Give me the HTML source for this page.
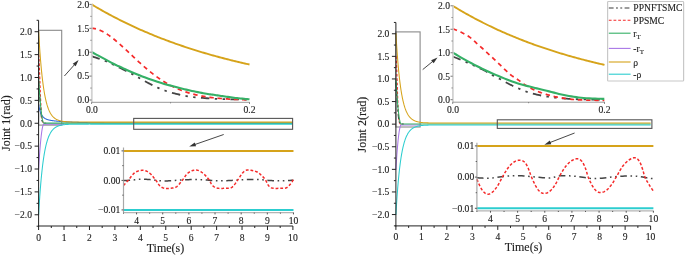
<!DOCTYPE html>
<html><head><meta charset="utf-8"><style>
html,body{margin:0;padding:0;background:#fff;width:685px;height:256px;overflow:hidden}
svg{display:block;will-change:transform}
text{font-family:"Liberation Serif",serif;stroke:#222;stroke-width:0.12px}
</style></head><body>
<svg width="685" height="256" viewBox="0 0 685 256" font-family='"Liberation Serif", serif' fill="#222">
<rect width="685" height="256" fill="#fff"/>
<rect x="38.6" y="30.3" width="23.1" height="94.8" fill="none" stroke="#8a8a8a" stroke-width="1.1"/>
<path d="M38.6,54.61 L38.7,54.94 L38.8,55.76 L38.91,56.97 L39.01,58.53 L39.11,60.39 L39.21,62.5 L39.31,64.82 L39.41,67.33 L39.52,69.97 L39.62,72.71 L39.72,75.53 L39.82,78.38 L39.92,81.24 L40.02,84.08 L40.13,86.89 L40.23,89.62 L40.33,92.28 L40.43,94.84 L40.53,97.29 L40.63,99.62 L40.74,101.82 L40.84,103.89 L40.94,105.83 L41.04,107.63 L41.14,109.3 L41.24,110.83 L41.35,112.24 L41.45,113.52 L41.55,114.69 L41.65,115.74 L41.75,116.68 L41.86,117.53 L41.96,118.28 L42.06,118.95 L42.16,119.55 L42.26,120.07 L42.36,120.53 L42.47,120.93 L42.57,121.27 L42.67,121.57 L42.77,121.83 L42.87,122.06 L42.97,122.25 L43.08,122.41 L43.18,122.55 L43.28,122.67 L43.38,122.77 L43.48,122.85 L43.58,122.92 L43.69,122.98 L43.79,123.03 L43.89,123.07 L43.99,123.11 L44.09,123.13 L44.19,123.16 L44.3,123.17 L44.4,123.19 L44.5,123.2 L44.6,123.21 L44.7,123.22 L44.8,123.23 L44.91,123.23 L45.01,123.23 L45.11,123.24 L45.21,123.24 L45.31,123.24 L45.42,123.24 L45.52,123.25 L45.62,123.25 L45.72,123.25 L45.82,123.25 L45.92,123.25 L46.03,123.25 L46.13,123.25 L46.23,123.25" fill="none" stroke="#f52a2a" stroke-width="1.1" stroke-linejoin="round" stroke-dasharray="2.6,1.8"/>
<path d="M38.6,81.15 L39.36,91.22 L40.13,102.66 L40.89,113.18 L41.65,119.59 L42.67,122.79 L43.69,123.25 L46.23,123.25" fill="none" stroke="#444" stroke-width="1.1" stroke-linejoin="round" stroke-dasharray="4.8,2.4,1.9,2.4,1.9,2.4"/>
<path d="M38.6,169.4 L38.73,167.27 L38.85,165.19 L38.98,163.16 L39.11,161.18 L39.24,159.26 L39.36,157.38 L39.49,155.56 L39.62,153.79 L39.74,152.07 L39.87,150.4 L40,148.78 L40.13,147.21 L40.25,145.7 L40.38,144.23 L40.51,142.82 L40.63,141.46 L40.76,140.15 L40.89,138.89 L41.02,137.69 L41.14,136.53 L41.27,135.43 L41.4,134.37 L41.52,133.37 L41.65,132.42 L41.78,131.52 L41.91,130.67 L42.03,129.88 L42.16,129.13 L42.29,128.44 L42.41,127.8 L42.54,127.21 L42.67,126.67 L42.8,126.18 L42.92,125.74 L43.05,125.36 L43.18,125.02 L43.3,124.74 L43.43,124.51 L43.56,124.33 L43.69,124.2 L43.81,124.13 L43.94,124.1 L44.07,124.1 L44.19,124.1 L44.32,124.1 L44.45,124.1 L44.58,124.1 L44.7,124.1 L44.83,124.1 L44.96,124.1 L45.08,124.1 L45.21,124.1 L45.34,124.1 L45.47,124.1 L45.59,124.1 L45.72,124.1 L45.85,124.1 L45.97,124.1 L46.1,124.1 L46.23,124.1 L46.36,124.1 L46.48,124.1 L46.61,124.1 L46.74,124.1 L46.86,124.1 L46.99,124.1 L47.12,124.1 L47.25,124.1 L47.37,124.1 L47.5,124.1 L47.63,124.1 L47.75,124.1 L47.88,124.1 L48.01,124.1 L48.14,124.1 L48.26,124.1 L48.39,124.1 L48.52,124.1 L48.64,124.1 L48.77,124.1 L48.9,124.1 L49.03,124.1 L49.15,124.1 L49.28,124.1 L49.41,124.1 L49.53,124.1 L49.66,124.1 L49.79,124.1 L49.92,124.1 L50.04,124.1 L50.17,124.1 L50.3,124.1 L50.42,124.1 L50.55,124.1 L50.68,124.1 L50.81,124.1 L50.93,124.1 L51.06,124.1 L51.19,124.1 L51.31,124.1 L51.44,124.1 L51.57,124.1 L51.7,124.1 L51.82,124.1 L51.95,124.1 L52.08,124.1 L52.21,124.1 L52.33,124.1 L52.46,124.1 L52.59,124.1 L52.71,124.1 L52.84,124.1 L52.97,124.1 L53.1,124.1 L53.22,124.1 L53.35,124.1 L53.48,124.1 L53.6,124.1 L53.73,124.1 L53.86,124.1 L53.99,124.1 L54.11,124.1 L54.24,124.1 L54.37,124.1 L54.49,124.1 L54.62,124.1 L54.75,124.1 L54.88,124.1 L55,124.1 L55.13,124.1 L55.26,124.1 L55.38,124.1 L55.51,124.1 L55.64,124.1 L55.77,124.1 L55.89,124.1 L56.02,124.1 L56.15,124.1 L56.27,124.1 L56.4,124.1 L56.53,124.1 L56.66,124.1 L56.78,124.1 L56.91,124.1 L57.04,124.1 L57.16,124.1 L57.29,124.1 L57.42,124.1 L57.55,124.1 L57.67,124.1 L57.8,124.1 L57.93,124.1 L58.05,124.1 L58.18,124.1 L58.31,124.1 L58.44,124.1 L58.56,124.1 L58.69,124.1 L58.82,124.1 L58.94,124.1 L59.07,124.1 L59.2,124.1 L59.33,124.1 L59.45,124.1 L59.58,124.1 L59.71,124.1 L59.83,124.1 L59.96,124.1 L60.09,124.1 L60.22,124.1 L60.34,124.1 L60.47,124.1 L60.6,124.1 L60.72,124.1 L60.85,124.1 L60.98,124.1 L61.11,124.1 L61.23,124.1 L61.36,124.1 L61.49,124.1 L61.61,124.1 L61.74,124.1 L61.87,124.1 L62,124.1 L62.12,124.1 L62.25,124.1 L62.38,124.1 L62.5,124.1 L62.63,124.1 L62.76,124.1 L62.89,124.1 L63.01,124.1 L63.14,124.1 L63.27,124.1 L63.39,124.1 L63.52,124.1 L63.65,124.1 L63.78,124.1 L63.9,124.1 L64.03,124.1" fill="none" stroke="#a877e6" stroke-width="1.05" stroke-linejoin="round" />
<path d="M38.6,104.8 L38.73,105.46 L38.85,106.09 L38.98,106.7 L39.11,107.28 L39.24,107.83 L39.36,108.36 L39.49,108.87 L39.62,109.35 L39.74,109.81 L39.87,110.25 L40,110.68 L40.13,111.08 L40.25,111.46 L40.38,111.83 L40.51,112.19 L40.63,112.52 L40.76,112.85 L40.89,113.15 L41.02,113.45 L41.14,113.73 L41.27,114 L41.4,114.26 L41.52,114.51 L41.65,114.75 L41.78,114.97 L41.91,115.19 L42.03,115.4 L42.16,115.6 L42.29,115.79 L42.41,115.98 L42.54,116.15 L42.67,116.32 L42.8,116.48 L42.92,116.64 L43.05,116.79 L43.18,116.93 L43.3,117.07 L43.43,117.2 L43.56,117.33 L43.69,117.45 L43.81,117.56 L43.94,117.68 L44.07,117.78 L44.19,117.89 L44.32,117.99 L44.45,118.08 L44.58,118.18 L44.7,118.26 L44.83,118.35 L44.96,118.43 L45.08,118.51 L45.21,118.59 L45.34,118.66 L45.47,118.73 L45.59,118.8 L45.72,118.87 L45.85,118.93 L45.97,119 L46.1,119.06 L46.23,119.11 L46.36,119.17 L46.48,119.22 L46.61,119.28 L46.74,119.33 L46.86,119.38 L46.99,119.42 L47.12,119.47 L47.25,119.51 L47.37,119.56 L47.5,119.6 L47.63,119.64 L47.75,119.68 L47.88,119.72 L48.01,119.76 L48.14,119.79 L48.26,119.83 L48.39,119.86 L48.52,119.9 L48.64,119.93 L48.77,119.96 L48.9,119.99 L49.03,120.02 L49.15,120.05 L49.28,120.08 L49.41,120.11 L49.53,120.14 L49.66,120.16 L49.79,120.19 L49.92,120.22 L50.04,120.24 L50.17,120.27 L50.3,120.29 L50.42,120.32 L50.55,120.34 L50.68,120.36 L50.81,120.38 L50.93,120.41 L51.06,120.43 L51.19,120.45 L51.31,120.47 L51.44,120.49 L51.57,120.51 L51.7,120.53 L51.82,120.55 L51.95,120.57 L52.08,120.59 L52.21,120.61 L52.33,120.63 L52.46,120.64 L52.59,120.66 L52.71,120.68 L52.84,120.7 L52.97,120.71 L53.1,120.73 L53.22,120.75 L53.35,120.76 L53.48,120.78 L53.6,120.8 L53.73,120.81 L53.86,120.83 L53.99,120.84 L54.11,120.86 L54.24,120.87 L54.37,120.89 L54.49,120.9 L54.62,120.92 L54.75,120.93 L54.88,120.95 L55,120.96 L55.13,120.97 L55.26,120.99 L55.38,121 L55.51,121.01 L55.64,121.03 L55.77,121.04 L55.89,121.06 L56.02,121.07 L56.15,121.08 L56.27,121.09 L56.4,121.11 L56.53,121.12 L56.66,121.13 L56.78,121.14 L56.91,121.16 L57.04,121.17 L57.16,121.18 L57.29,121.19 L57.42,121.2 L57.55,121.22 L57.67,121.23 L57.8,121.24 L57.93,121.25 L58.05,121.26 L58.18,121.27 L58.31,121.29 L58.44,121.3 L58.56,121.31 L58.69,121.32 L58.82,121.33 L58.94,121.34 L59.07,121.35 L59.2,121.36 L59.33,121.37 L59.45,121.38 L59.58,121.39 L59.71,121.4 L59.83,121.42 L59.96,121.43 L60.09,121.44 L60.22,121.45 L60.34,121.46 L60.47,121.47 L60.6,121.48 L60.72,121.49 L60.85,121.5 L60.98,121.51 L61.11,121.51 L61.23,121.52 L61.36,121.53 L61.49,121.54 L61.61,121.55 L61.74,121.56 L61.87,121.57 L62,121.58 L62.12,121.59 L62.25,121.6 L62.38,121.61 L62.5,121.62 L62.63,121.63 L62.76,121.63 L62.89,121.64 L63.01,121.65 L63.14,121.66 L63.27,121.67 L63.39,121.68 L63.52,121.69 L63.65,121.7 L63.78,121.7 L63.9,121.71 L64.03,121.72 L65.3,121.8 L66.57,121.88 L67.84,121.95 L69.12,122.02 L70.39,122.08 L71.66,122.14 L72.93,122.19 L74.2,122.25 L75.47,122.3 L76.75,122.34 L78.02,122.39 L79.29,122.43 L80.56,122.47 L81.83,122.5 L83.1,122.54 L84.37,122.57 L85.65,122.6 L86.92,122.63 L88.19,122.66 L89.46,122.68 L90.73,122.71 L92,122.73 L93.27,122.75 L94.55,122.77 L95.82,122.79 L97.09,122.81 L98.36,122.83 L99.63,122.84 L100.9,122.86 L102.18,122.87 L103.45,122.89 L104.72,122.9 L105.99,122.91 L107.26,122.92 L108.53,122.93 L109.8,122.94 L111.08,122.95 L112.35,122.96 L113.62,122.97 L114.89,122.97 L127.6,123.03 L140.32,123.06 L153.03,123.08 L165.75,123.09 L178.47,123.09 L191.18,123.1 L203.89,123.1 L216.61,123.1 L229.32,123.1 L242.04,123.1 L254.75,123.1 L267.47,123.1 L280.19,123.1 L292.9,123.1" fill="none" stroke="#2a66d6" stroke-width="1.05" stroke-linejoin="round" />
<path d="M38.6,77.8 L38.73,79.93 L38.85,82.01 L38.98,84.04 L39.11,86.02 L39.24,87.94 L39.36,89.82 L39.49,91.64 L39.62,93.41 L39.74,95.13 L39.87,96.8 L40,98.42 L40.13,99.99 L40.25,101.5 L40.38,102.97 L40.51,104.38 L40.63,105.74 L40.76,107.05 L40.89,108.31 L41.02,109.51 L41.14,110.67 L41.27,111.77 L41.4,112.83 L41.52,113.83 L41.65,114.78 L41.78,115.68 L41.91,116.53 L42.03,117.32 L42.16,118.07 L42.29,118.76 L42.41,119.4 L42.54,119.99 L42.67,120.53 L42.8,121.02 L42.92,121.46 L43.05,121.84 L43.18,122.18 L43.3,122.46 L43.43,122.69 L43.56,122.87 L43.69,123 L43.81,123.07 L43.94,123.1 L44.07,123.1 L44.19,123.1 L44.32,123.1 L44.45,123.1 L44.58,123.1 L44.7,123.1 L44.83,123.1 L44.96,123.1 L45.08,123.1 L45.21,123.1 L45.34,123.1 L45.47,123.1 L45.59,123.1 L45.72,123.1 L45.85,123.1 L45.97,123.1 L46.1,123.1 L46.23,123.1 L46.36,123.1 L46.48,123.1 L46.61,123.1 L46.74,123.1 L46.86,123.1 L46.99,123.1 L47.12,123.1 L47.25,123.1 L47.37,123.1 L47.5,123.1 L47.63,123.1 L47.75,123.1 L47.88,123.1 L48.01,123.1 L48.14,123.1 L48.26,123.1 L48.39,123.1 L48.52,123.1 L48.64,123.1 L48.77,123.1 L48.9,123.1 L49.03,123.1 L49.15,123.1 L49.28,123.1 L49.41,123.1 L49.53,123.1 L49.66,123.1 L49.79,123.1 L49.92,123.1 L50.04,123.1 L50.17,123.1 L50.3,123.1 L50.42,123.1 L50.55,123.1 L50.68,123.1 L50.81,123.1 L50.93,123.1 L51.06,123.1 L51.19,123.1 L51.31,123.1 L51.44,123.1 L51.57,123.1 L51.7,123.1 L51.82,123.1 L51.95,123.1 L52.08,123.1 L52.21,123.1 L52.33,123.1 L52.46,123.1 L52.59,123.1 L52.71,123.1 L52.84,123.1 L52.97,123.1 L53.1,123.1 L53.22,123.1 L53.35,123.1 L53.48,123.1 L53.6,123.1 L53.73,123.1 L53.86,123.1 L53.99,123.1 L54.11,123.1 L54.24,123.1 L54.37,123.1 L54.49,123.1 L54.62,123.1 L54.75,123.1 L54.88,123.1 L55,123.1 L55.13,123.1 L55.26,123.1 L55.38,123.1 L55.51,123.1 L55.64,123.1 L55.77,123.1 L55.89,123.1 L56.02,123.1 L56.15,123.1 L56.27,123.1 L56.4,123.1 L56.53,123.1 L56.66,123.1 L56.78,123.1 L56.91,123.1 L57.04,123.1 L57.16,123.1 L57.29,123.1 L57.42,123.1 L57.55,123.1 L57.67,123.1 L57.8,123.1 L57.93,123.1 L58.05,123.1 L58.18,123.1 L58.31,123.1 L58.44,123.1 L58.56,123.1 L58.69,123.1 L58.82,123.1 L58.94,123.1 L59.07,123.1 L59.2,123.1 L59.33,123.1 L59.45,123.1 L59.58,123.1 L59.71,123.1 L59.83,123.1 L59.96,123.1 L60.09,123.1 L60.22,123.1 L60.34,123.1 L60.47,123.1 L60.6,123.1 L60.72,123.1 L60.85,123.1 L60.98,123.1 L61.11,123.1 L61.23,123.1 L61.36,123.1 L61.49,123.1 L61.61,123.1 L61.74,123.1 L61.87,123.1 L62,123.1 L62.12,123.1 L62.25,123.1 L62.38,123.1 L62.5,123.1 L62.63,123.1 L62.76,123.1 L62.89,123.1 L63.01,123.1 L63.14,123.1 L63.27,123.1 L63.39,123.1 L63.52,123.1 L63.65,123.1 L63.78,123.1 L63.9,123.1 L64.03,123.1 L65.3,123.1 L66.57,123.1 L67.84,123.1 L69.12,123.1 L70.39,123.1 L71.66,123.1 L72.93,123.1 L74.2,123.1 L75.47,123.1 L76.75,123.1 L78.02,123.1 L79.29,123.1 L80.56,123.1 L81.83,123.1 L83.1,123.1 L84.37,123.1 L85.65,123.1 L86.92,123.1 L88.19,123.1 L89.46,123.1 L90.73,123.1 L92,123.1 L93.27,123.1 L94.55,123.1 L95.82,123.1 L97.09,123.1 L98.36,123.1 L99.63,123.1 L100.9,123.1 L102.18,123.1 L103.45,123.1 L104.72,123.1 L105.99,123.1 L107.26,123.1 L108.53,123.1 L109.8,123.1 L111.08,123.1 L112.35,123.1 L113.62,123.1 L114.89,123.1 L127.6,123.1 L140.32,123.1 L153.03,123.1 L165.75,123.1 L178.47,123.1 L191.18,123.1 L203.89,123.1 L216.61,123.1 L229.32,123.1 L242.04,123.1 L254.75,123.1 L267.47,123.1 L280.19,123.1 L292.9,123.1" fill="none" stroke="#34b066" stroke-width="1.05" stroke-linejoin="round" />
<path d="M38.6,215.16 L38.73,212.91 L38.85,210.72 L38.98,208.58 L39.11,206.5 L39.24,204.46 L39.36,202.48 L39.49,200.54 L39.62,198.66 L39.74,196.81 L39.87,195.02 L40,193.27 L40.13,191.56 L40.25,189.9 L40.38,188.27 L40.51,186.69 L40.63,185.14 L40.76,183.63 L40.89,182.16 L41.02,180.73 L41.14,179.33 L41.27,177.97 L41.4,176.64 L41.52,175.34 L41.65,174.08 L41.78,172.84 L41.91,171.64 L42.03,170.47 L42.16,169.32 L42.29,168.2 L42.41,167.11 L42.54,166.05 L42.67,165.02 L42.8,164.01 L42.92,163.02 L43.05,162.06 L43.18,161.12 L43.3,160.21 L43.43,159.32 L43.56,158.45 L43.69,157.6 L43.81,156.77 L43.94,155.97 L44.07,155.18 L44.19,154.41 L44.32,153.66 L44.45,152.93 L44.58,152.22 L44.7,151.53 L44.83,150.85 L44.96,150.19 L45.08,149.55 L45.21,148.92 L45.34,148.3 L45.47,147.71 L45.59,147.12 L45.72,146.56 L45.85,146 L45.97,145.46 L46.1,144.93 L46.23,144.42 L46.36,143.92 L46.48,143.43 L46.61,142.95 L46.74,142.49 L46.86,142.03 L46.99,141.59 L47.12,141.16 L47.25,140.74 L47.37,140.32 L47.5,139.92 L47.63,139.53 L47.75,139.15 L47.88,138.78 L48.01,138.42 L48.14,138.06 L48.26,137.72 L48.39,137.38 L48.52,137.06 L48.64,136.74 L48.77,136.42 L48.9,136.12 L49.03,135.82 L49.15,135.53 L49.28,135.25 L49.41,134.98 L49.53,134.71 L49.66,134.45 L49.79,134.19 L49.92,133.94 L50.04,133.7 L50.17,133.46 L50.3,133.23 L50.42,133 L50.55,132.78 L50.68,132.57 L50.81,132.36 L50.93,132.16 L51.06,131.96 L51.19,131.76 L51.31,131.57 L51.44,131.39 L51.57,131.21 L51.7,131.03 L51.82,130.86 L51.95,130.7 L52.08,130.53 L52.21,130.37 L52.33,130.22 L52.46,130.07 L52.59,129.92 L52.71,129.78 L52.84,129.64 L52.97,129.5 L53.1,129.37 L53.22,129.24 L53.35,129.11 L53.48,128.99 L53.6,128.87 L53.73,128.75 L53.86,128.63 L53.99,128.52 L54.11,128.41 L54.24,128.31 L54.37,128.2 L54.49,128.1 L54.62,128 L54.75,127.91 L54.88,127.81 L55,127.72 L55.13,127.63 L55.26,127.54 L55.38,127.46 L55.51,127.38 L55.64,127.29 L55.77,127.22 L55.89,127.14 L56.02,127.06 L56.15,126.99 L56.27,126.92 L56.4,126.85 L56.53,126.78 L56.66,126.72 L56.78,126.65 L56.91,126.59 L57.04,126.53 L57.16,126.47 L57.29,126.41 L57.42,126.35 L57.55,126.3 L57.67,126.24 L57.8,126.19 L57.93,126.14 L58.05,126.09 L58.18,126.04 L58.31,125.99 L58.44,125.94 L58.56,125.9 L58.69,125.85 L58.82,125.81 L58.94,125.77 L59.07,125.73 L59.2,125.69 L59.33,125.65 L59.45,125.61 L59.58,125.57 L59.71,125.54 L59.83,125.5 L59.96,125.47 L60.09,125.43 L60.22,125.4 L60.34,125.37 L60.47,125.34 L60.6,125.31 L60.72,125.28 L60.85,125.25 L60.98,125.22 L61.11,125.19 L61.23,125.16 L61.36,125.14 L61.49,125.11 L61.61,125.09 L61.74,125.06 L61.87,125.04 L62,125.02 L62.12,124.99 L62.25,124.97 L62.38,124.95 L62.5,124.93 L62.63,124.91 L62.76,124.89 L62.89,124.87 L63.01,124.85 L63.14,124.83 L63.27,124.81 L63.39,124.8 L63.52,124.78 L63.65,124.76 L63.78,124.75 L63.9,124.73 L64.03,124.71 L65.3,124.58 L66.57,124.47 L67.84,124.39 L69.12,124.33 L70.39,124.28 L71.66,124.24 L72.93,124.21 L74.2,124.18 L75.47,124.16 L76.75,124.15 L78.02,124.14 L79.29,124.13 L80.56,124.12 L81.83,124.12 L83.1,124.11 L84.37,124.11 L85.65,124.11 L86.92,124.11 L88.19,124.11 L89.46,124.1 L90.73,124.1 L92,124.1 L93.27,124.1 L94.55,124.1 L95.82,124.1 L97.09,124.1 L98.36,124.1 L99.63,124.1 L100.9,124.1 L102.18,124.1 L103.45,124.1 L104.72,124.1 L105.99,124.1 L107.26,124.1 L108.53,124.1 L109.8,124.1 L111.08,124.1 L112.35,124.1 L113.62,124.1 L114.89,124.1 L127.6,124.1 L140.32,124.1 L153.03,124.1 L165.75,124.1 L178.47,124.1 L191.18,124.1 L203.89,124.1 L216.61,124.1 L229.32,124.1 L242.04,124.1 L254.75,124.1 L267.47,124.1 L280.19,124.1 L292.9,124.1" fill="none" stroke="#2ccdcf" stroke-width="1.05" stroke-linejoin="round" />
<path d="M38.6,31.04 L38.73,33.29 L38.85,35.48 L38.98,37.62 L39.11,39.7 L39.24,41.74 L39.36,43.72 L39.49,45.66 L39.62,47.54 L39.74,49.39 L39.87,51.18 L40,52.93 L40.13,54.64 L40.25,56.3 L40.38,57.93 L40.51,59.51 L40.63,61.06 L40.76,62.57 L40.89,64.04 L41.02,65.47 L41.14,66.87 L41.27,68.23 L41.4,69.56 L41.52,70.86 L41.65,72.12 L41.78,73.36 L41.91,74.56 L42.03,75.73 L42.16,76.88 L42.29,78 L42.41,79.09 L42.54,80.15 L42.67,81.18 L42.8,82.19 L42.92,83.18 L43.05,84.14 L43.18,85.08 L43.3,85.99 L43.43,86.88 L43.56,87.75 L43.69,88.6 L43.81,89.43 L43.94,90.23 L44.07,91.02 L44.19,91.79 L44.32,92.54 L44.45,93.27 L44.58,93.98 L44.7,94.67 L44.83,95.35 L44.96,96.01 L45.08,96.65 L45.21,97.28 L45.34,97.9 L45.47,98.49 L45.59,99.08 L45.72,99.64 L45.85,100.2 L45.97,100.74 L46.1,101.27 L46.23,101.78 L46.36,102.28 L46.48,102.77 L46.61,103.25 L46.74,103.71 L46.86,104.17 L46.99,104.61 L47.12,105.04 L47.25,105.46 L47.37,105.88 L47.5,106.28 L47.63,106.67 L47.75,107.05 L47.88,107.42 L48.01,107.78 L48.14,108.14 L48.26,108.48 L48.39,108.82 L48.52,109.14 L48.64,109.46 L48.77,109.78 L48.9,110.08 L49.03,110.38 L49.15,110.67 L49.28,110.95 L49.41,111.22 L49.53,111.49 L49.66,111.75 L49.79,112.01 L49.92,112.26 L50.04,112.5 L50.17,112.74 L50.3,112.97 L50.42,113.2 L50.55,113.42 L50.68,113.63 L50.81,113.84 L50.93,114.04 L51.06,114.24 L51.19,114.44 L51.31,114.63 L51.44,114.81 L51.57,114.99 L51.7,115.17 L51.82,115.34 L51.95,115.5 L52.08,115.67 L52.21,115.83 L52.33,115.98 L52.46,116.13 L52.59,116.28 L52.71,116.42 L52.84,116.56 L52.97,116.7 L53.1,116.83 L53.22,116.96 L53.35,117.09 L53.48,117.21 L53.6,117.33 L53.73,117.45 L53.86,117.57 L53.99,117.68 L54.11,117.79 L54.24,117.89 L54.37,118 L54.49,118.1 L54.62,118.2 L54.75,118.29 L54.88,118.39 L55,118.48 L55.13,118.57 L55.26,118.66 L55.38,118.74 L55.51,118.82 L55.64,118.91 L55.77,118.98 L55.89,119.06 L56.02,119.14 L56.15,119.21 L56.27,119.28 L56.4,119.35 L56.53,119.42 L56.66,119.48 L56.78,119.55 L56.91,119.61 L57.04,119.67 L57.16,119.73 L57.29,119.79 L57.42,119.85 L57.55,119.9 L57.67,119.96 L57.8,120.01 L57.93,120.06 L58.05,120.11 L58.18,120.16 L58.31,120.21 L58.44,120.26 L58.56,120.3 L58.69,120.35 L58.82,120.39 L58.94,120.43 L59.07,120.47 L59.2,120.51 L59.33,120.55 L59.45,120.59 L59.58,120.63 L59.71,120.66 L59.83,120.7 L59.96,120.73 L60.09,120.77 L60.22,120.8 L60.34,120.83 L60.47,120.86 L60.6,120.89 L60.72,120.92 L60.85,120.95 L60.98,120.98 L61.11,121.01 L61.23,121.04 L61.36,121.06 L61.49,121.09 L61.61,121.11 L61.74,121.14 L61.87,121.16 L62,121.18 L62.12,121.21 L62.25,121.23 L62.38,121.25 L62.5,121.27 L62.63,121.29 L62.76,121.31 L62.89,121.33 L63.01,121.35 L63.14,121.37 L63.27,121.39 L63.39,121.4 L63.52,121.42 L63.65,121.44 L63.78,121.45 L63.9,121.47 L64.03,121.49 L65.3,121.62 L66.57,121.73 L67.84,121.81 L69.12,121.87 L70.39,121.92 L71.66,121.96 L72.93,121.99 L74.2,122.02 L75.47,122.04 L76.75,122.05 L78.02,122.06 L79.29,122.07 L80.56,122.08 L81.83,122.08 L83.1,122.09 L84.37,122.09 L85.65,122.09 L86.92,122.09 L88.19,122.09 L89.46,122.1 L90.73,122.1 L92,122.1 L93.27,122.1 L94.55,122.1 L95.82,122.1 L97.09,122.1 L98.36,122.1 L99.63,122.1 L100.9,122.1 L102.18,122.1 L103.45,122.1 L104.72,122.1 L105.99,122.1 L107.26,122.1 L108.53,122.1 L109.8,122.1 L111.08,122.1 L112.35,122.1 L113.62,122.1 L114.89,122.1 L127.6,122.1 L140.32,122.1 L153.03,122.1 L165.75,122.1 L178.47,122.1 L191.18,122.1 L203.89,122.1 L216.61,122.1 L229.32,122.1 L242.04,122.1 L254.75,122.1 L267.47,122.1 L280.19,122.1 L292.9,122.1" fill="none" stroke="#d6a31a" stroke-width="1.05" stroke-linejoin="round" />
<rect x="133.7" y="118.4" width="158.9" height="10.9" fill="none" stroke="#555" stroke-width="1.1"/>
<line x1="38.6" y1="20.3" x2="38.6" y2="226.5" stroke="#222" stroke-width="1" />
<line x1="38.1" y1="226" x2="292.9" y2="226" stroke="#222" stroke-width="1" />
<line x1="36.6" y1="226.21" x2="38.6" y2="226.21" stroke="#222" stroke-width="1" />
<line x1="34.6" y1="214.77" x2="38.6" y2="214.77" stroke="#222" stroke-width="1" />
<text x="32" y="218.07" font-size="9.6" text-anchor="end" >−2.0</text>
<line x1="36.6" y1="203.33" x2="38.6" y2="203.33" stroke="#222" stroke-width="1" />
<line x1="34.6" y1="191.89" x2="38.6" y2="191.89" stroke="#222" stroke-width="1" />
<text x="32" y="195.19" font-size="9.6" text-anchor="end" >−1.5</text>
<line x1="36.6" y1="180.45" x2="38.6" y2="180.45" stroke="#222" stroke-width="1" />
<line x1="34.6" y1="169.01" x2="38.6" y2="169.01" stroke="#222" stroke-width="1" />
<text x="32" y="172.31" font-size="9.6" text-anchor="end" >−1.0</text>
<line x1="36.6" y1="157.57" x2="38.6" y2="157.57" stroke="#222" stroke-width="1" />
<line x1="34.6" y1="146.13" x2="38.6" y2="146.13" stroke="#222" stroke-width="1" />
<text x="32" y="149.43" font-size="9.6" text-anchor="end" >−0.5</text>
<line x1="36.6" y1="134.69" x2="38.6" y2="134.69" stroke="#222" stroke-width="1" />
<line x1="34.6" y1="123.25" x2="38.6" y2="123.25" stroke="#222" stroke-width="1" />
<text x="32" y="126.55" font-size="9.6" text-anchor="end" >0.0</text>
<line x1="36.6" y1="111.81" x2="38.6" y2="111.81" stroke="#222" stroke-width="1" />
<line x1="34.6" y1="100.37" x2="38.6" y2="100.37" stroke="#222" stroke-width="1" />
<text x="32" y="103.67" font-size="9.6" text-anchor="end" >0.5</text>
<line x1="36.6" y1="88.93" x2="38.6" y2="88.93" stroke="#222" stroke-width="1" />
<line x1="34.6" y1="77.49" x2="38.6" y2="77.49" stroke="#222" stroke-width="1" />
<text x="32" y="80.79" font-size="9.6" text-anchor="end" >1.0</text>
<line x1="36.6" y1="66.05" x2="38.6" y2="66.05" stroke="#222" stroke-width="1" />
<line x1="34.6" y1="54.61" x2="38.6" y2="54.61" stroke="#222" stroke-width="1" />
<text x="32" y="57.91" font-size="9.6" text-anchor="end" >1.5</text>
<line x1="36.6" y1="43.17" x2="38.6" y2="43.17" stroke="#222" stroke-width="1" />
<line x1="34.6" y1="31.73" x2="38.6" y2="31.73" stroke="#222" stroke-width="1" />
<text x="32" y="35.03" font-size="9.6" text-anchor="end" >2.0</text>
<line x1="36.6" y1="20.29" x2="38.6" y2="20.29" stroke="#222" stroke-width="1" />
<line x1="38.6" y1="226" x2="38.6" y2="230" stroke="#222" stroke-width="1" />
<text x="38.6" y="240.7" font-size="9.6" text-anchor="middle" >0</text>
<line x1="51.31" y1="226" x2="51.31" y2="228" stroke="#222" stroke-width="1" />
<line x1="64.03" y1="226" x2="64.03" y2="230" stroke="#222" stroke-width="1" />
<text x="64.03" y="240.7" font-size="9.6" text-anchor="middle" >1</text>
<line x1="76.75" y1="226" x2="76.75" y2="228" stroke="#222" stroke-width="1" />
<line x1="89.46" y1="226" x2="89.46" y2="230" stroke="#222" stroke-width="1" />
<text x="89.46" y="240.7" font-size="9.6" text-anchor="middle" >2</text>
<line x1="102.18" y1="226" x2="102.18" y2="228" stroke="#222" stroke-width="1" />
<line x1="114.89" y1="226" x2="114.89" y2="230" stroke="#222" stroke-width="1" />
<text x="114.89" y="240.7" font-size="9.6" text-anchor="middle" >3</text>
<line x1="127.6" y1="226" x2="127.6" y2="228" stroke="#222" stroke-width="1" />
<line x1="140.32" y1="226" x2="140.32" y2="230" stroke="#222" stroke-width="1" />
<text x="140.32" y="240.7" font-size="9.6" text-anchor="middle" >4</text>
<line x1="153.03" y1="226" x2="153.03" y2="228" stroke="#222" stroke-width="1" />
<line x1="165.75" y1="226" x2="165.75" y2="230" stroke="#222" stroke-width="1" />
<text x="165.75" y="240.7" font-size="9.6" text-anchor="middle" >5</text>
<line x1="178.47" y1="226" x2="178.47" y2="228" stroke="#222" stroke-width="1" />
<line x1="191.18" y1="226" x2="191.18" y2="230" stroke="#222" stroke-width="1" />
<text x="191.18" y="240.7" font-size="9.6" text-anchor="middle" >6</text>
<line x1="203.89" y1="226" x2="203.89" y2="228" stroke="#222" stroke-width="1" />
<line x1="216.61" y1="226" x2="216.61" y2="230" stroke="#222" stroke-width="1" />
<text x="216.61" y="240.7" font-size="9.6" text-anchor="middle" >7</text>
<line x1="229.32" y1="226" x2="229.32" y2="228" stroke="#222" stroke-width="1" />
<line x1="242.04" y1="226" x2="242.04" y2="230" stroke="#222" stroke-width="1" />
<text x="242.04" y="240.7" font-size="9.6" text-anchor="middle" >8</text>
<line x1="254.75" y1="226" x2="254.75" y2="228" stroke="#222" stroke-width="1" />
<line x1="267.47" y1="226" x2="267.47" y2="230" stroke="#222" stroke-width="1" />
<text x="267.47" y="240.7" font-size="9.6" text-anchor="middle" >9</text>
<line x1="280.19" y1="226" x2="280.19" y2="228" stroke="#222" stroke-width="1" />
<line x1="292.9" y1="226" x2="292.9" y2="230" stroke="#222" stroke-width="1" />
<text x="292.9" y="240.7" font-size="9.6" text-anchor="middle" >10</text>
<text x="165.5" y="251.9" font-size="12.0" text-anchor="middle" >Time(s)</text>
<text x="0" y="0" font-size="12.0" text-anchor="middle" transform="translate(9.6,123.2) rotate(-90)">Joint 1(rad)</text>
<path d="M91.6,56.2 L92.73,56.58 L94.21,57.06 L95.96,57.63 L97.93,58.28 L100.03,58.99 L102.19,59.76 L104.34,60.57 L106.4,61.4 L108.48,62.31 L110.68,63.33 L112.96,64.43 L115.25,65.56 L117.51,66.69 L119.67,67.78 L121.69,68.8 L123.5,69.7 L125.11,70.49 L126.58,71.21 L127.92,71.87 L129.15,72.48 L130.3,73.05 L131.4,73.6 L132.46,74.15 L133.5,74.7 L134.47,75.23 L135.33,75.72 L136.11,76.18 L136.85,76.62 L137.59,77.08 L138.37,77.55 L139.23,78.05 L140.2,78.6 L141.3,79.21 L142.49,79.87 L143.75,80.56 L145.05,81.27 L146.37,81.98 L147.69,82.69 L148.97,83.36 L150.2,84 L151.39,84.61 L152.56,85.2 L153.71,85.78 L154.86,86.34 L155.99,86.89 L157.1,87.41 L158.21,87.92 L159.3,88.4 L160.35,88.85 L161.36,89.27 L162.33,89.66 L163.31,90.04 L164.3,90.4 L165.33,90.76 L166.42,91.13 L167.6,91.5 L168.87,91.88 L170.21,92.27 L171.6,92.66 L173.04,93.04 L174.52,93.42 L176.01,93.79 L177.51,94.15 L179,94.5 L180.47,94.83 L181.91,95.16 L183.35,95.48 L184.82,95.79 L186.33,96.09 L187.92,96.38 L189.6,96.65 L191.4,96.9 L193.38,97.14 L195.54,97.36 L197.82,97.56 L200.16,97.76 L202.49,97.94 L204.77,98.1 L206.93,98.26 L208.9,98.4 L210.58,98.53 L211.97,98.64 L213.19,98.73 L214.38,98.81 L215.64,98.89 L217.12,98.96 L218.93,99.03 L221.2,99.1 L224.17,99.18 L227.81,99.25 L231.88,99.32 L236.12,99.39 L240.26,99.46 L244.04,99.51 L247.21,99.56 L249.5,99.6" fill="none" stroke="#444" stroke-width="1.8" stroke-linejoin="round" stroke-dasharray="8.5,5.4,2.4,5.4,2.4,5.4"/>
<path d="M91.6,28.3 L93.18,28.4 L94.76,28.65 L96.34,29.02 L97.92,29.5 L99.49,30.09 L101.07,30.77 L102.65,31.54 L104.23,32.4 L105.81,33.33 L107.39,34.34 L108.97,35.41 L110.55,36.54 L112.13,37.73 L113.71,38.97 L115.28,40.26 L116.86,41.58 L118.44,42.95 L120.02,44.34 L121.6,45.77 L123.18,47.21 L124.76,48.67 L126.34,50.15 L127.92,51.64 L129.5,53.13 L131.07,54.63 L132.65,56.12 L134.23,57.61 L135.81,59.09 L137.39,60.56 L138.97,62.01 L140.55,63.45 L142.13,64.87 L143.71,66.27 L145.29,67.65 L146.87,69 L148.44,70.32 L150.02,71.61 L151.6,72.88 L153.18,74.11 L154.76,75.31 L156.34,76.48 L157.92,77.62 L159.5,78.71 L161.08,79.78 L162.65,80.81 L164.23,81.8 L165.81,82.76 L167.39,83.68 L168.97,84.57 L170.55,85.43 L172.13,86.24 L173.71,87.03 L175.29,87.78 L176.87,88.5 L178.44,89.18 L180.02,89.84 L181.6,90.46 L183.18,91.05 L184.76,91.62 L186.34,92.15 L187.92,92.66 L189.5,93.14 L191.08,93.59 L192.66,94.02 L194.24,94.43 L195.81,94.81 L197.39,95.17 L198.97,95.51 L200.55,95.83 L202.13,96.13 L203.71,96.41 L205.29,96.68 L206.87,96.92 L208.45,97.15 L210.02,97.37 L211.6,97.57 L213.18,97.76 L214.76,97.94 L216.34,98.1 L217.92,98.25 L219.5,98.39 L221.08,98.52 L222.66,98.64 L224.24,98.76 L225.81,98.86 L227.39,98.96 L228.97,99.04 L230.55,99.13 L232.13,99.2 L233.71,99.27 L235.29,99.34 L236.87,99.39 L238.45,99.45 L240.03,99.5 L241.6,99.54 L243.18,99.59 L244.76,99.62 L246.34,99.66 L247.92,99.69 L249.5,99.72" fill="none" stroke="#f52a2a" stroke-width="1.7" stroke-linejoin="round" stroke-dasharray="4.4,3.8"/>
<path d="M91.6,52 L93.39,52.96 L95.87,54.3 L98.85,55.91 L102.09,57.66 L105.38,59.43 L108.51,61.11 L111.25,62.57 L113.4,63.7 L114.88,64.47 L115.88,64.98 L116.54,65.3 L117.01,65.51 L117.45,65.69 L117.99,65.92 L118.79,66.26 L120,66.8 L121.57,67.52 L123.34,68.35 L125.28,69.26 L127.37,70.22 L129.59,71.24 L131.92,72.27 L134.33,73.29 L136.8,74.3 L139.44,75.33 L142.32,76.42 L145.35,77.54 L148.46,78.66 L151.55,79.76 L154.54,80.8 L157.35,81.76 L159.9,82.6 L162.17,83.32 L164.24,83.93 L166.15,84.46 L167.96,84.93 L169.7,85.37 L171.42,85.79 L173.17,86.23 L175,86.7 L176.88,87.19 L178.76,87.69 L180.63,88.18 L182.51,88.67 L184.38,89.15 L186.25,89.61 L188.13,90.07 L190,90.5 L191.91,90.92 L193.87,91.34 L195.84,91.75 L197.81,92.14 L199.74,92.52 L201.6,92.87 L203.36,93.2 L205,93.5 L206.49,93.76 L207.85,93.98 L209.12,94.17 L210.31,94.34 L211.47,94.5 L212.62,94.66 L213.78,94.82 L215,95 L216.24,95.19 L217.45,95.37 L218.66,95.56 L219.88,95.74 L221.1,95.93 L222.36,96.12 L223.65,96.31 L225,96.5 L226.4,96.7 L227.85,96.9 L229.33,97.11 L230.84,97.32 L232.38,97.52 L233.92,97.73 L235.46,97.92 L237,98.1 L238.62,98.28 L240.38,98.46 L242.2,98.63 L244,98.8 L245.71,98.96 L247.24,99.09 L248.53,99.21 L249.5,99.3" fill="none" stroke="#34b066" stroke-width="2.1" stroke-linejoin="round" />
<path d="M91.6,4.4 L93.18,5.35 L94.76,6.28 L96.34,7.21 L97.92,8.13 L99.49,9.04 L101.07,9.94 L102.65,10.83 L104.23,11.71 L105.81,12.59 L107.39,13.45 L108.97,14.31 L110.55,15.16 L112.13,16 L113.71,16.83 L115.28,17.65 L116.86,18.46 L118.44,19.27 L120.02,20.07 L121.6,20.86 L123.18,21.64 L124.76,22.42 L126.34,23.18 L127.92,23.94 L129.5,24.7 L131.07,25.44 L132.65,26.18 L134.23,26.91 L135.81,27.63 L137.39,28.35 L138.97,29.05 L140.55,29.76 L142.13,30.45 L143.71,31.14 L145.29,31.82 L146.87,32.49 L148.44,33.16 L150.02,33.82 L151.6,34.47 L153.18,35.12 L154.76,35.76 L156.34,36.39 L157.92,37.02 L159.5,37.64 L161.08,38.26 L162.65,38.87 L164.23,39.47 L165.81,40.07 L167.39,40.66 L168.97,41.25 L170.55,41.83 L172.13,42.4 L173.71,42.97 L175.29,43.53 L176.87,44.09 L178.44,44.64 L180.02,45.19 L181.6,45.73 L183.18,46.26 L184.76,46.79 L186.34,47.32 L187.92,47.84 L189.5,48.35 L191.08,48.86 L192.66,49.36 L194.24,49.86 L195.81,50.36 L197.39,50.85 L198.97,51.33 L200.55,51.81 L202.13,52.29 L203.71,52.76 L205.29,53.22 L206.87,53.68 L208.45,54.14 L210.02,54.59 L211.6,55.04 L213.18,55.48 L214.76,55.92 L216.34,56.35 L217.92,56.78 L219.5,57.21 L221.08,57.63 L222.66,58.04 L224.24,58.46 L225.81,58.87 L227.39,59.27 L228.97,59.67 L230.55,60.07 L232.13,60.46 L233.71,60.85 L235.29,61.23 L236.87,61.61 L238.45,61.99 L240.03,62.36 L241.6,62.73 L243.18,63.1 L244.76,63.46 L246.34,63.82 L247.92,64.18 L249.5,64.53" fill="none" stroke="#d6a31a" stroke-width="1.9" stroke-linejoin="round" />
<line x1="91.8" y1="3.9" x2="91.8" y2="102.3" stroke="#d2d2d2" stroke-width="1.8" />
<line x1="91.6" y1="102.3" x2="249.8" y2="102.3" stroke="#999" stroke-width="1.0" />
<line x1="89.4" y1="100" x2="91.6" y2="100" stroke="#777" stroke-width="1" />
<text x="89.3" y="103.3" font-size="9.6" text-anchor="end" >0.0</text>
<line x1="90.4" y1="88.05" x2="91.6" y2="88.05" stroke="#777" stroke-width="1" />
<line x1="89.4" y1="76.1" x2="91.6" y2="76.1" stroke="#777" stroke-width="1" />
<text x="89.3" y="79.4" font-size="9.6" text-anchor="end" >0.5</text>
<line x1="90.4" y1="64.15" x2="91.6" y2="64.15" stroke="#777" stroke-width="1" />
<line x1="89.4" y1="52.2" x2="91.6" y2="52.2" stroke="#777" stroke-width="1" />
<text x="89.3" y="55.5" font-size="9.6" text-anchor="end" >1.0</text>
<line x1="90.4" y1="40.25" x2="91.6" y2="40.25" stroke="#777" stroke-width="1" />
<line x1="89.4" y1="28.3" x2="91.6" y2="28.3" stroke="#777" stroke-width="1" />
<text x="89.3" y="31.6" font-size="9.6" text-anchor="end" >1.5</text>
<line x1="90.4" y1="16.35" x2="91.6" y2="16.35" stroke="#777" stroke-width="1" />
<line x1="89.4" y1="4.4" x2="91.6" y2="4.4" stroke="#777" stroke-width="1" />
<text x="89.3" y="7.7" font-size="9.6" text-anchor="end" >2.0</text>
<line x1="91.6" y1="102.3" x2="91.6" y2="103.9" stroke="#777" stroke-width="1" />
<line x1="170.55" y1="102.3" x2="170.55" y2="103.3" stroke="#777" stroke-width="1" />
<line x1="249.5" y1="102.3" x2="249.5" y2="103.9" stroke="#777" stroke-width="1" />
<text x="91.9" y="112.9" font-size="9.6" text-anchor="middle" >0.0</text>
<text x="249.5" y="112.9" font-size="9.6" text-anchor="middle" >0.2</text>
<path d="M123.5,180.5 L123.98,180.49 L124.59,180.48 L125.31,180.47 L126.12,180.46 L127.02,180.44 L127.98,180.41 L128.98,180.36 L130,180.3 L131.08,180.2 L132.25,180.08 L133.49,179.93 L134.78,179.77 L136.1,179.61 L137.42,179.48 L138.73,179.37 L140,179.3 L141.25,179.27 L142.5,179.26 L143.75,179.28 L145,179.31 L146.25,179.36 L147.5,179.43 L148.75,179.51 L150,179.6 L151.25,179.72 L152.5,179.86 L153.75,180.04 L155,180.22 L156.25,180.4 L157.5,180.56 L158.75,180.7 L160,180.8 L161.25,180.86 L162.5,180.9 L163.75,180.92 L165,180.93 L166.25,180.91 L167.5,180.88 L168.75,180.85 L170,180.8 L171.25,180.74 L172.5,180.65 L173.75,180.54 L175,180.43 L176.25,180.31 L177.5,180.19 L178.75,180.09 L180,180 L181.25,179.93 L182.5,179.86 L183.75,179.8 L185,179.75 L186.25,179.7 L187.5,179.66 L188.75,179.63 L190,179.6 L191.25,179.58 L192.5,179.56 L193.75,179.54 L195,179.53 L196.25,179.53 L197.5,179.54 L198.75,179.56 L200,179.6 L201.24,179.66 L202.45,179.73 L203.66,179.82 L204.88,179.92 L206.1,180.02 L207.36,180.12 L208.65,180.22 L210,180.3 L211.4,180.38 L212.84,180.46 L214.31,180.55 L215.81,180.63 L217.34,180.7 L218.88,180.76 L220.44,180.79 L222,180.8 L223.58,180.78 L225.18,180.73 L226.8,180.66 L228.44,180.57 L230.08,180.48 L231.73,180.38 L233.37,180.29 L235,180.2 L236.63,180.11 L238.27,180.01 L239.92,179.91 L241.56,179.81 L243.2,179.71 L244.82,179.62 L246.42,179.55 L248,179.5 L249.56,179.47 L251.12,179.45 L252.66,179.44 L254.19,179.45 L255.69,179.47 L257.16,179.5 L258.6,179.54 L260,179.6 L261.33,179.68 L262.59,179.78 L263.81,179.91 L265,180.04 L266.19,180.17 L267.41,180.3 L268.67,180.41 L270,180.5 L271.41,180.57 L272.87,180.64 L274.38,180.7 L275.91,180.74 L277.46,180.78 L279,180.8 L280.52,180.81 L282,180.8 L283.53,180.76 L285.16,180.7 L286.82,180.61 L288.45,180.52 L289.99,180.42 L291.37,180.33 L292.52,180.25 L293.4,180.2" fill="none" stroke="#444" stroke-width="1.5" stroke-linejoin="round" stroke-dasharray="6.6,3.6,1.6,3.6,1.6,3.6"/>
<path d="M123.5,185.5 L123.9,185.05 L124.43,184.47 L125.06,183.77 L125.76,182.99 L126.51,182.16 L127.29,181.3 L128.06,180.44 L128.8,179.6 L129.52,178.74 L130.25,177.79 L130.99,176.81 L131.74,175.82 L132.52,174.86 L133.32,173.96 L134.14,173.16 L135,172.5 L135.91,171.96 L136.86,171.49 L137.86,171.1 L138.87,170.79 L139.89,170.55 L140.89,170.39 L141.87,170.31 L142.8,170.3 L143.69,170.37 L144.56,170.52 L145.4,170.74 L146.23,171.04 L147.05,171.42 L147.86,171.87 L148.68,172.4 L149.5,173 L150.34,173.72 L151.2,174.58 L152.06,175.55 L152.92,176.57 L153.75,177.62 L154.56,178.65 L155.31,179.63 L156,180.5 L156.61,181.3 L157.16,182.09 L157.65,182.85 L158.11,183.57 L158.55,184.25 L159,184.89 L159.48,185.47 L160,186 L160.56,186.47 L161.12,186.88 L161.7,187.24 L162.29,187.56 L162.9,187.83 L163.52,188.06 L164.15,188.25 L164.8,188.4 L165.47,188.51 L166.16,188.56 L166.87,188.56 L167.59,188.52 L168.32,188.46 L169.05,188.38 L169.78,188.29 L170.5,188.2 L171.22,188.13 L171.93,188.07 L172.66,188.02 L173.37,187.94 L174.09,187.82 L174.8,187.63 L175.51,187.37 L176.2,187 L176.87,186.53 L177.52,185.97 L178.16,185.35 L178.8,184.65 L179.44,183.9 L180.1,183.1 L180.78,182.26 L181.5,181.4 L182.25,180.45 L183.01,179.37 L183.8,178.22 L184.61,177.04 L185.43,175.88 L186.27,174.79 L187.13,173.81 L188,173 L188.91,172.33 L189.85,171.74 L190.82,171.24 L191.81,170.82 L192.79,170.48 L193.76,170.24 L194.7,170.07 L195.6,170 L196.46,170.02 L197.28,170.14 L198.08,170.36 L198.87,170.66 L199.65,171.03 L200.42,171.46 L201.2,171.96 L202,172.5 L202.82,173.12 L203.68,173.84 L204.54,174.64 L205.4,175.5 L206.24,176.39 L207.05,177.28 L207.81,178.16 L208.5,179 L209.11,179.84 L209.65,180.71 L210.13,181.6 L210.58,182.49 L211.01,183.34 L211.47,184.14 L211.95,184.87 L212.5,185.5 L213.09,186.04 L213.69,186.51 L214.31,186.91 L214.95,187.26 L215.62,187.55 L216.31,187.8 L217.04,188.02 L217.8,188.2 L218.61,188.34 L219.47,188.41 L220.37,188.44 L221.3,188.43 L222.24,188.38 L223.18,188.33 L224.1,188.26 L225,188.2 L225.88,188.18 L226.76,188.2 L227.64,188.23 L228.52,188.23 L229.38,188.18 L230.24,188.02 L231.08,187.74 L231.9,187.3 L232.71,186.66 L233.51,185.84 L234.29,184.88 L235.07,183.84 L235.83,182.74 L236.57,181.64 L237.3,180.58 L238,179.6 L238.68,178.65 L239.33,177.68 L239.97,176.69 L240.59,175.72 L241.2,174.8 L241.8,173.94 L242.4,173.16 L243,172.5 L243.57,171.94 L244.1,171.45 L244.6,171.04 L245.11,170.7 L245.65,170.43 L246.24,170.22 L246.92,170.08 L247.7,170 L248.63,170 L249.71,170.09 L250.89,170.26 L252.11,170.49 L253.33,170.76 L254.51,171.06 L255.58,171.38 L256.5,171.7 L257.27,172.03 L257.93,172.38 L258.51,172.76 L259.03,173.17 L259.52,173.6 L259.99,174.05 L260.48,174.51 L261,175 L261.55,175.5 L262.11,176.03 L262.68,176.57 L263.23,177.14 L263.78,177.72 L264.31,178.33 L264.82,178.95 L265.3,179.6 L265.75,180.3 L266.16,181.06 L266.55,181.86 L266.93,182.68 L267.3,183.47 L267.68,184.23 L268.08,184.91 L268.5,185.5 L268.92,186 L269.32,186.44 L269.71,186.82 L270.12,187.16 L270.56,187.45 L271.06,187.7 L271.63,187.91 L272.3,188.1 L273.08,188.24 L273.98,188.34 L274.96,188.38 L275.99,188.39 L277.04,188.38 L278.07,188.36 L279.07,188.32 L280,188.3 L280.88,188.29 L281.75,188.3 L282.6,188.31 L283.42,188.3 L284.23,188.26 L284.99,188.17 L285.72,188.03 L286.4,187.8 L287.03,187.49 L287.61,187.1 L288.16,186.64 L288.67,186.14 L289.15,185.61 L289.61,185.07 L290.06,184.53 L290.5,184 L290.94,183.45 L291.38,182.84 L291.8,182.2 L292.21,181.56 L292.58,180.95 L292.91,180.4 L293.18,179.94 L293.4,179.6" fill="none" stroke="#f52a2a" stroke-width="1.5" stroke-linejoin="round" stroke-dasharray="2.8,1.9"/>
<line x1="123.5" y1="150.88" x2="293.48" y2="150.88" stroke="#d6a31a" stroke-width="2" />
<line x1="123.5" y1="209.92" x2="293.48" y2="209.92" stroke="#2ccdcf" stroke-width="2" />
<line x1="123.5" y1="147.5" x2="123.5" y2="212.6" stroke="#a8a8a8" stroke-width="1.2" />
<line x1="123.5" y1="212.6" x2="293.78" y2="212.6" stroke="#b4b4b4" stroke-width="1.1" />
<line x1="121.5" y1="209.92" x2="123.5" y2="209.92" stroke="#555" stroke-width="1" />
<line x1="122.3" y1="195.16" x2="123.5" y2="195.16" stroke="#555" stroke-width="1" />
<line x1="121.5" y1="180.4" x2="123.5" y2="180.4" stroke="#555" stroke-width="1" />
<line x1="122.3" y1="165.64" x2="123.5" y2="165.64" stroke="#555" stroke-width="1" />
<line x1="121.5" y1="150.88" x2="123.5" y2="150.88" stroke="#555" stroke-width="1" />
<text x="120.3" y="154.18" font-size="9.6" text-anchor="end" >0.01</text>
<text x="120.3" y="183.7" font-size="9.6" text-anchor="end" >0.00</text>
<text x="120.3" y="213.22" font-size="9.6" text-anchor="end" >−0.01</text>
<line x1="123.5" y1="212.6" x2="123.5" y2="213.7" stroke="#555" stroke-width="1" />
<line x1="136.57" y1="212.6" x2="136.57" y2="214.4" stroke="#555" stroke-width="1" />
<text x="136.57" y="223.6" font-size="9.6" text-anchor="middle" >4</text>
<line x1="149.65" y1="212.6" x2="149.65" y2="213.7" stroke="#555" stroke-width="1" />
<line x1="162.72" y1="212.6" x2="162.72" y2="214.4" stroke="#555" stroke-width="1" />
<text x="162.72" y="223.6" font-size="9.6" text-anchor="middle" >5</text>
<line x1="175.8" y1="212.6" x2="175.8" y2="213.7" stroke="#555" stroke-width="1" />
<line x1="188.88" y1="212.6" x2="188.88" y2="214.4" stroke="#555" stroke-width="1" />
<text x="188.88" y="223.6" font-size="9.6" text-anchor="middle" >6</text>
<line x1="201.95" y1="212.6" x2="201.95" y2="213.7" stroke="#555" stroke-width="1" />
<line x1="215.02" y1="212.6" x2="215.02" y2="214.4" stroke="#555" stroke-width="1" />
<text x="215.02" y="223.6" font-size="9.6" text-anchor="middle" >7</text>
<line x1="228.1" y1="212.6" x2="228.1" y2="213.7" stroke="#555" stroke-width="1" />
<line x1="241.18" y1="212.6" x2="241.18" y2="214.4" stroke="#555" stroke-width="1" />
<text x="241.18" y="223.6" font-size="9.6" text-anchor="middle" >8</text>
<line x1="254.25" y1="212.6" x2="254.25" y2="213.7" stroke="#555" stroke-width="1" />
<line x1="267.32" y1="212.6" x2="267.32" y2="214.4" stroke="#555" stroke-width="1" />
<text x="267.32" y="223.6" font-size="9.6" text-anchor="middle" >9</text>
<line x1="280.4" y1="212.6" x2="280.4" y2="213.7" stroke="#555" stroke-width="1" />
<line x1="293.48" y1="212.6" x2="293.48" y2="214.4" stroke="#555" stroke-width="1" />
<text x="293.48" y="223.6" font-size="9.6" text-anchor="middle" >10</text>
<line x1="64.4" y1="76" x2="74.87" y2="64.28" stroke="#333" stroke-width="0.9" />
<path d="M78.6,60.1 L75.7,66.35 L72.71,63.69 Z" fill="#333"/>
<line x1="223.7" y1="134.5" x2="194.49" y2="144.66" stroke="#333" stroke-width="0.9" />
<path d="M189.2,146.5 L194.78,142.44 L196.09,146.22 Z" fill="#333"/>
<rect x="395.9" y="31.9" width="24.2" height="95.1" fill="none" stroke="#8a8a8a" stroke-width="1.1"/>
<path d="M395.9,56.35 L396,56.56 L396.1,57.18 L396.21,58.2 L396.31,59.61 L396.41,61.37 L396.51,63.46 L396.61,65.84 L396.72,68.47 L396.82,71.31 L396.92,74.31 L397.02,77.43 L397.12,80.62 L397.22,83.85 L397.33,87.06 L397.43,90.23 L397.53,93.32 L397.63,96.29 L397.73,99.14 L397.84,101.83 L397.94,104.36 L398.04,106.7 L398.14,108.86 L398.24,110.84 L398.35,112.63 L398.45,114.25 L398.55,115.69 L398.65,116.96 L398.75,118.08 L398.85,119.06 L398.96,119.9 L399.06,120.63 L399.16,121.25 L399.26,121.78 L399.36,122.22 L399.47,122.59 L399.57,122.89 L399.67,123.15 L399.77,123.35 L399.87,123.52 L399.98,123.66 L400.08,123.77 L400.18,123.85 L400.28,123.92 L400.38,123.97 L400.48,124.02 L400.59,124.05 L400.69,124.07 L400.79,124.09 L400.89,124.11 L400.99,124.12 L401.1,124.13 L401.2,124.13 L401.3,124.14 L401.4,124.14 L401.5,124.14 L401.61,124.15 L401.71,124.15 L401.81,124.15 L401.91,124.15 L402.01,124.15 L402.11,124.15 L402.22,124.15 L402.32,124.15 L402.42,124.15 L402.52,124.15 L402.62,124.15 L402.73,124.15 L402.83,124.15 L402.93,124.15 L403.03,124.15 L403.13,124.15 L403.24,124.15 L403.34,124.15 L403.44,124.15 L403.54,124.15" fill="none" stroke="#f52a2a" stroke-width="1.1" stroke-linejoin="round" stroke-dasharray="2.6,1.8"/>
<path d="M395.9,82.57 L396.66,91.61 L397.43,103.81 L398.19,115.11 L398.96,120.99 L399.98,123.7 L400.99,124.15 L403.54,124.15" fill="none" stroke="#444" stroke-width="1.1" stroke-linejoin="round" stroke-dasharray="4.8,2.4,1.9,2.4,1.9,2.4"/>
<path d="M395.9,169.7 L396.03,167.59 L396.15,165.54 L396.28,163.53 L396.41,161.58 L396.54,159.68 L396.66,157.83 L396.79,156.03 L396.92,154.27 L397.05,152.58 L397.17,150.93 L397.3,149.33 L397.43,147.78 L397.56,146.28 L397.68,144.84 L397.81,143.44 L397.94,142.1 L398.06,140.8 L398.19,139.56 L398.32,138.37 L398.45,137.23 L398.57,136.14 L398.7,135.1 L398.83,134.11 L398.96,133.17 L399.08,132.28 L399.21,131.44 L399.34,130.66 L399.47,129.92 L399.59,129.24 L399.72,128.6 L399.85,128.02 L399.98,127.49 L400.1,127 L400.23,126.57 L400.36,126.19 L400.48,125.86 L400.61,125.58 L400.74,125.36 L400.87,125.18 L400.99,125.05 L401.12,124.98 L401.25,124.95 L401.38,124.95 L401.5,124.95 L401.63,124.95 L401.76,124.95 L401.89,124.95 L402.01,124.95 L402.14,124.95 L402.27,124.95 L402.39,124.95 L402.52,124.95 L402.65,124.95 L402.78,124.95 L402.9,124.95 L403.03,124.95 L403.16,124.95 L403.29,124.95 L403.41,124.95 L403.54,124.95 L403.67,124.95 L403.8,124.95 L403.92,124.95 L404.05,124.95 L404.18,124.95 L404.31,124.95 L404.43,124.95 L404.56,124.95 L404.69,124.95 L404.81,124.95 L404.94,124.95 L405.07,124.95 L405.2,124.95 L405.32,124.95 L405.45,124.95 L405.58,124.95 L405.71,124.95 L405.83,124.95 L405.96,124.95 L406.09,124.95 L406.22,124.95 L406.34,124.95 L406.47,124.95 L406.6,124.95 L406.72,124.95 L406.85,124.95 L406.98,124.95 L407.11,124.95 L407.23,124.95 L407.36,124.95 L407.49,124.95 L407.62,124.95 L407.74,124.95 L407.87,124.95 L408,124.95 L408.13,124.95 L408.25,124.95 L408.38,124.95 L408.51,124.95 L408.63,124.95 L408.76,124.95 L408.89,124.95 L409.02,124.95 L409.14,124.95 L409.27,124.95 L409.4,124.95 L409.53,124.95 L409.65,124.95 L409.78,124.95 L409.91,124.95 L410.04,124.95 L410.16,124.95 L410.29,124.95 L410.42,124.95 L410.55,124.95 L410.67,124.95 L410.8,124.95 L410.93,124.95 L411.05,124.95 L411.18,124.95 L411.31,124.95 L411.44,124.95 L411.56,124.95 L411.69,124.95 L411.82,124.95 L411.95,124.95 L412.07,124.95 L412.2,124.95 L412.33,124.95 L412.46,124.95 L412.58,124.95 L412.71,124.95 L412.84,124.95 L412.96,124.95 L413.09,124.95 L413.22,124.95 L413.35,124.95 L413.47,124.95 L413.6,124.95 L413.73,124.95 L413.86,124.95 L413.98,124.95 L414.11,124.95 L414.24,124.95 L414.37,124.95 L414.49,124.95 L414.62,124.95 L414.75,124.95 L414.88,124.95 L415,124.95 L415.13,124.95 L415.26,124.95 L415.38,124.95 L415.51,124.95 L415.64,124.95 L415.77,124.95 L415.89,124.95 L416.02,124.95 L416.15,124.95 L416.28,124.95 L416.4,124.95 L416.53,124.95 L416.66,124.95 L416.79,124.95 L416.91,124.95 L417.04,124.95 L417.17,124.95 L417.29,124.95 L417.42,124.95 L417.55,124.95 L417.68,124.95 L417.8,124.95 L417.93,124.95 L418.06,124.95 L418.19,124.95 L418.31,124.95 L418.44,124.95 L418.57,124.95 L418.7,124.95 L418.82,124.95 L418.95,124.95 L419.08,124.95 L419.21,124.95 L419.33,124.95 L419.46,124.95 L419.59,124.95 L419.71,124.95 L419.84,124.95 L419.97,124.95 L420.1,124.95 L420.22,124.95 L420.35,124.95 L420.48,124.95 L420.61,124.95 L420.73,124.95 L420.86,124.95 L420.99,124.95 L421.12,124.95 L421.24,124.95 L421.37,124.95" fill="none" stroke="#a877e6" stroke-width="1.05" stroke-linejoin="round" />
<path d="M395.9,79.2 L396.03,81.31 L396.15,83.36 L396.28,85.37 L396.41,87.32 L396.54,89.22 L396.66,91.07 L396.79,92.88 L396.92,94.63 L397.05,96.32 L397.17,97.97 L397.3,99.57 L397.43,101.12 L397.56,102.62 L397.68,104.06 L397.81,105.46 L397.94,106.8 L398.06,108.1 L398.19,109.34 L398.32,110.53 L398.45,111.67 L398.57,112.76 L398.7,113.8 L398.83,114.79 L398.96,115.73 L399.08,116.62 L399.21,117.46 L399.34,118.24 L399.47,118.98 L399.59,119.66 L399.72,120.3 L399.85,120.88 L399.98,121.41 L400.1,121.9 L400.23,122.33 L400.36,122.71 L400.48,123.04 L400.61,123.32 L400.74,123.54 L400.87,123.72 L400.99,123.85 L401.12,123.92 L401.25,123.95 L401.38,123.95 L401.5,123.95 L401.63,123.95 L401.76,123.95 L401.89,123.95 L402.01,123.95 L402.14,123.95 L402.27,123.95 L402.39,123.95 L402.52,123.95 L402.65,123.95 L402.78,123.95 L402.9,123.95 L403.03,123.95 L403.16,123.95 L403.29,123.95 L403.41,123.95 L403.54,123.95 L403.67,123.95 L403.8,123.95 L403.92,123.95 L404.05,123.95 L404.18,123.95 L404.31,123.95 L404.43,123.95 L404.56,123.95 L404.69,123.95 L404.81,123.95 L404.94,123.95 L405.07,123.95 L405.2,123.95 L405.32,123.95 L405.45,123.95 L405.58,123.95 L405.71,123.95 L405.83,123.95 L405.96,123.95 L406.09,123.95 L406.22,123.95 L406.34,123.95 L406.47,123.95 L406.6,123.95 L406.72,123.95 L406.85,123.95 L406.98,123.95 L407.11,123.95 L407.23,123.95 L407.36,123.95 L407.49,123.95 L407.62,123.95 L407.74,123.95 L407.87,123.95 L408,123.95 L408.13,123.95 L408.25,123.95 L408.38,123.95 L408.51,123.95 L408.63,123.95 L408.76,123.95 L408.89,123.95 L409.02,123.95 L409.14,123.95 L409.27,123.95 L409.4,123.95 L409.53,123.95 L409.65,123.95 L409.78,123.95 L409.91,123.95 L410.04,123.95 L410.16,123.95 L410.29,123.95 L410.42,123.95 L410.55,123.95 L410.67,123.95 L410.8,123.95 L410.93,123.95 L411.05,123.95 L411.18,123.95 L411.31,123.95 L411.44,123.95 L411.56,123.95 L411.69,123.95 L411.82,123.95 L411.95,123.95 L412.07,123.95 L412.2,123.95 L412.33,123.95 L412.46,123.95 L412.58,123.95 L412.71,123.95 L412.84,123.95 L412.96,123.95 L413.09,123.95 L413.22,123.95 L413.35,123.95 L413.47,123.95 L413.6,123.95 L413.73,123.95 L413.86,123.95 L413.98,123.95 L414.11,123.95 L414.24,123.95 L414.37,123.95 L414.49,123.95 L414.62,123.95 L414.75,123.95 L414.88,123.95 L415,123.95 L415.13,123.95 L415.26,123.95 L415.38,123.95 L415.51,123.95 L415.64,123.95 L415.77,123.95 L415.89,123.95 L416.02,123.95 L416.15,123.95 L416.28,123.95 L416.4,123.95 L416.53,123.95 L416.66,123.95 L416.79,123.95 L416.91,123.95 L417.04,123.95 L417.17,123.95 L417.29,123.95 L417.42,123.95 L417.55,123.95 L417.68,123.95 L417.8,123.95 L417.93,123.95 L418.06,123.95 L418.19,123.95 L418.31,123.95 L418.44,123.95 L418.57,123.95 L418.7,123.95 L418.82,123.95 L418.95,123.95 L419.08,123.95 L419.21,123.95 L419.33,123.95 L419.46,123.95 L419.59,123.95 L419.71,123.95 L419.84,123.95 L419.97,123.95 L420.1,123.95 L420.22,123.95 L420.35,123.95 L420.48,123.95 L420.61,123.95 L420.73,123.95 L420.86,123.95 L420.99,123.95 L421.12,123.95 L421.24,123.95 L421.37,123.95 L422.64,123.95 L423.92,123.95 L425.19,123.95 L426.46,123.95 L427.74,123.95 L429.01,123.95 L430.28,123.95 L431.56,123.95 L432.83,123.95 L434.1,123.95 L435.38,123.95 L436.65,123.95 L437.93,123.95 L439.2,123.95 L440.47,123.95 L441.75,123.95 L443.02,123.95 L444.29,123.95 L445.57,123.95 L446.84,123.95 L448.11,123.95 L449.39,123.95 L450.66,123.95 L451.93,123.95 L453.21,123.95 L454.48,123.95 L455.75,123.95 L457.03,123.95 L458.3,123.95 L459.57,123.95 L460.85,123.95 L462.12,123.95 L463.4,123.95 L464.67,123.95 L465.94,123.95 L467.22,123.95 L468.49,123.95 L469.76,123.95 L471.04,123.95 L472.31,123.95 L485.04,123.95 L497.78,123.95 L510.51,123.95 L523.25,123.95 L535.98,123.95 L548.72,123.95 L561.45,123.95 L574.19,123.95 L586.92,123.95 L599.66,123.95 L612.39,123.95 L625.13,123.95 L637.87,123.95 L650.6,123.95" fill="none" stroke="#34b066" stroke-width="1.05" stroke-linejoin="round" />
<path d="M395.9,214.9 L396.03,212.68 L396.15,210.51 L396.28,208.4 L396.41,206.34 L396.54,204.33 L396.66,202.37 L396.79,200.46 L396.92,198.59 L397.05,196.77 L397.17,195 L397.3,193.27 L397.43,191.59 L397.56,189.94 L397.68,188.34 L397.81,186.77 L397.94,185.24 L398.06,183.76 L398.19,182.3 L398.32,180.89 L398.45,179.51 L398.57,178.16 L398.7,176.85 L398.83,175.56 L398.96,174.31 L399.08,173.1 L399.21,171.91 L399.34,170.75 L399.47,169.62 L399.59,168.51 L399.72,167.44 L399.85,166.39 L399.98,165.37 L400.1,164.37 L400.23,163.4 L400.36,162.45 L400.48,161.52 L400.61,160.62 L400.74,159.74 L400.87,158.88 L400.99,158.04 L401.12,157.22 L401.25,156.43 L401.38,155.65 L401.5,154.89 L401.63,154.15 L401.76,153.43 L401.89,152.73 L402.01,152.04 L402.14,151.37 L402.27,150.72 L402.39,150.08 L402.52,149.46 L402.65,148.86 L402.78,148.27 L402.9,147.69 L403.03,147.13 L403.16,146.58 L403.29,146.05 L403.41,145.53 L403.54,145.02 L403.67,144.52 L403.8,144.04 L403.92,143.57 L404.05,143.11 L404.18,142.66 L404.31,142.22 L404.43,141.8 L404.56,141.38 L404.69,140.98 L404.81,140.58 L404.94,140.19 L405.07,139.82 L405.2,139.45 L405.32,139.09 L405.45,138.74 L405.58,138.4 L405.71,138.07 L405.83,137.75 L405.96,137.43 L406.09,137.12 L406.22,136.82 L406.34,136.53 L406.47,136.24 L406.6,135.96 L406.72,135.69 L406.85,135.43 L406.98,135.17 L407.11,134.92 L407.23,134.67 L407.36,134.43 L407.49,134.2 L407.62,133.97 L407.74,133.75 L407.87,133.53 L408,133.32 L408.13,133.11 L408.25,132.91 L408.38,132.71 L408.51,132.52 L408.63,132.33 L408.76,132.15 L408.89,131.97 L409.02,131.8 L409.14,131.63 L409.27,131.47 L409.4,131.3 L409.53,131.15 L409.65,131 L409.78,130.85 L409.91,130.7 L410.04,130.56 L410.16,130.42 L410.29,130.28 L410.42,130.15 L410.55,130.02 L410.67,129.9 L410.8,129.78 L410.93,129.66 L411.05,129.54 L411.18,129.43 L411.31,129.32 L411.44,129.21 L411.56,129.1 L411.69,129 L411.82,128.9 L411.95,128.8 L412.07,128.71 L412.2,128.62 L412.33,128.53 L412.46,128.44 L412.58,128.35 L412.71,128.27 L412.84,128.19 L412.96,128.11 L413.09,128.03 L413.22,127.95 L413.35,127.88 L413.47,127.81 L413.6,127.73 L413.73,127.67 L413.86,127.6 L413.98,127.53 L414.11,127.47 L414.24,127.41 L414.37,127.35 L414.49,127.29 L414.62,127.23 L414.75,127.17 L414.88,127.12 L415,127.07 L415.13,127.01 L415.26,126.96 L415.38,126.91 L415.51,126.86 L415.64,126.82 L415.77,126.77 L415.89,126.73 L416.02,126.68 L416.15,126.64 L416.28,126.6 L416.4,126.56 L416.53,126.52 L416.66,126.48 L416.79,126.44 L416.91,126.4 L417.04,126.37 L417.17,126.33 L417.29,126.3 L417.42,126.27 L417.55,126.23 L417.68,126.2 L417.8,126.17 L417.93,126.14 L418.06,126.11 L418.19,126.08 L418.31,126.05 L418.44,126.03 L418.57,126 L418.7,125.97 L418.82,125.95 L418.95,125.92 L419.08,125.9 L419.21,125.88 L419.33,125.85 L419.46,125.83 L419.59,125.81 L419.71,125.79 L419.84,125.77 L419.97,125.75 L420.1,125.73 L420.22,125.71 L420.35,125.69 L420.48,125.67 L420.61,125.65 L420.73,125.64 L420.86,125.62 L420.99,125.6 L421.12,125.59 L421.24,125.57 L421.37,125.56 L422.64,125.42 L423.92,125.32 L425.19,125.24 L426.46,125.17 L427.74,125.12 L429.01,125.09 L430.28,125.06 L431.56,125.03 L432.83,125.01 L434.1,125 L435.38,124.99 L436.65,124.98 L437.93,124.97 L439.2,124.97 L440.47,124.96 L441.75,124.96 L443.02,124.96 L444.29,124.96 L445.57,124.96 L446.84,124.95 L448.11,124.95 L449.39,124.95 L450.66,124.95 L451.93,124.95 L453.21,124.95 L454.48,124.95 L455.75,124.95 L457.03,124.95 L458.3,124.95 L459.57,124.95 L460.85,124.95 L462.12,124.95 L463.4,124.95 L464.67,124.95 L465.94,124.95 L467.22,124.95 L468.49,124.95 L469.76,124.95 L471.04,124.95 L472.31,124.95 L485.04,124.95 L497.78,124.95 L510.51,124.95 L523.25,124.95 L535.98,124.95 L548.72,124.95 L561.45,124.95 L574.19,124.95 L586.92,124.95 L599.66,124.95 L612.39,124.95 L625.13,124.95 L637.87,124.95 L650.6,124.95" fill="none" stroke="#2ccdcf" stroke-width="1.05" stroke-linejoin="round" />
<path d="M395.9,33.1 L396.03,35.32 L396.15,37.49 L396.28,39.6 L396.41,41.66 L396.54,43.67 L396.66,45.63 L396.79,47.54 L396.92,49.41 L397.05,51.23 L397.17,53 L397.3,54.73 L397.43,56.41 L397.56,58.06 L397.68,59.66 L397.81,61.23 L397.94,62.76 L398.06,64.24 L398.19,65.7 L398.32,67.11 L398.45,68.49 L398.57,69.84 L398.7,71.15 L398.83,72.44 L398.96,73.69 L399.08,74.9 L399.21,76.09 L399.34,77.25 L399.47,78.38 L399.59,79.49 L399.72,80.56 L399.85,81.61 L399.98,82.63 L400.1,83.63 L400.23,84.6 L400.36,85.55 L400.48,86.48 L400.61,87.38 L400.74,88.26 L400.87,89.12 L400.99,89.96 L401.12,90.78 L401.25,91.57 L401.38,92.35 L401.5,93.11 L401.63,93.85 L401.76,94.57 L401.89,95.27 L402.01,95.96 L402.14,96.63 L402.27,97.28 L402.39,97.92 L402.52,98.54 L402.65,99.14 L402.78,99.73 L402.9,100.31 L403.03,100.87 L403.16,101.42 L403.29,101.95 L403.41,102.47 L403.54,102.98 L403.67,103.48 L403.8,103.96 L403.92,104.43 L404.05,104.89 L404.18,105.34 L404.31,105.78 L404.43,106.2 L404.56,106.62 L404.69,107.02 L404.81,107.42 L404.94,107.81 L405.07,108.18 L405.2,108.55 L405.32,108.91 L405.45,109.26 L405.58,109.6 L405.71,109.93 L405.83,110.25 L405.96,110.57 L406.09,110.88 L406.22,111.18 L406.34,111.47 L406.47,111.76 L406.6,112.04 L406.72,112.31 L406.85,112.57 L406.98,112.83 L407.11,113.08 L407.23,113.33 L407.36,113.57 L407.49,113.8 L407.62,114.03 L407.74,114.25 L407.87,114.47 L408,114.68 L408.13,114.89 L408.25,115.09 L408.38,115.29 L408.51,115.48 L408.63,115.67 L408.76,115.85 L408.89,116.03 L409.02,116.2 L409.14,116.37 L409.27,116.53 L409.4,116.7 L409.53,116.85 L409.65,117 L409.78,117.15 L409.91,117.3 L410.04,117.44 L410.16,117.58 L410.29,117.72 L410.42,117.85 L410.55,117.98 L410.67,118.1 L410.8,118.22 L410.93,118.34 L411.05,118.46 L411.18,118.57 L411.31,118.68 L411.44,118.79 L411.56,118.9 L411.69,119 L411.82,119.1 L411.95,119.2 L412.07,119.29 L412.2,119.38 L412.33,119.47 L412.46,119.56 L412.58,119.65 L412.71,119.73 L412.84,119.81 L412.96,119.89 L413.09,119.97 L413.22,120.05 L413.35,120.12 L413.47,120.19 L413.6,120.27 L413.73,120.33 L413.86,120.4 L413.98,120.47 L414.11,120.53 L414.24,120.59 L414.37,120.65 L414.49,120.71 L414.62,120.77 L414.75,120.83 L414.88,120.88 L415,120.93 L415.13,120.99 L415.26,121.04 L415.38,121.09 L415.51,121.14 L415.64,121.18 L415.77,121.23 L415.89,121.27 L416.02,121.32 L416.15,121.36 L416.28,121.4 L416.4,121.44 L416.53,121.48 L416.66,121.52 L416.79,121.56 L416.91,121.6 L417.04,121.63 L417.17,121.67 L417.29,121.7 L417.42,121.73 L417.55,121.77 L417.68,121.8 L417.8,121.83 L417.93,121.86 L418.06,121.89 L418.19,121.92 L418.31,121.95 L418.44,121.97 L418.57,122 L418.7,122.03 L418.82,122.05 L418.95,122.08 L419.08,122.1 L419.21,122.12 L419.33,122.15 L419.46,122.17 L419.59,122.19 L419.71,122.21 L419.84,122.23 L419.97,122.25 L420.1,122.27 L420.22,122.29 L420.35,122.31 L420.48,122.33 L420.61,122.35 L420.73,122.36 L420.86,122.38 L420.99,122.4 L421.12,122.41 L421.24,122.43 L421.37,122.44 L422.64,122.58 L423.92,122.68 L425.19,122.76 L426.46,122.83 L427.74,122.88 L429.01,122.91 L430.28,122.94 L431.56,122.97 L432.83,122.99 L434.1,123 L435.38,123.01 L436.65,123.02 L437.93,123.03 L439.2,123.03 L440.47,123.04 L441.75,123.04 L443.02,123.04 L444.29,123.04 L445.57,123.04 L446.84,123.05 L448.11,123.05 L449.39,123.05 L450.66,123.05 L451.93,123.05 L453.21,123.05 L454.48,123.05 L455.75,123.05 L457.03,123.05 L458.3,123.05 L459.57,123.05 L460.85,123.05 L462.12,123.05 L463.4,123.05 L464.67,123.05 L465.94,123.05 L467.22,123.05 L468.49,123.05 L469.76,123.05 L471.04,123.05 L472.31,123.05 L485.04,123.05 L497.78,123.05 L510.51,123.05 L523.25,123.05 L535.98,123.05 L548.72,123.05 L561.45,123.05 L574.19,123.05 L586.92,123.05 L599.66,123.05 L612.39,123.05 L625.13,123.05 L637.87,123.05 L650.6,123.05" fill="none" stroke="#d6a31a" stroke-width="1.05" stroke-linejoin="round" />
<rect x="497.3" y="119.8" width="154.6" height="8.6" fill="none" stroke="#555" stroke-width="1.1"/>
<line x1="395.9" y1="22.5" x2="395.9" y2="226.4" stroke="#222" stroke-width="1" />
<line x1="395.4" y1="225.9" x2="650.6" y2="225.9" stroke="#222" stroke-width="1" />
<line x1="393.9" y1="225.85" x2="395.9" y2="225.85" stroke="#222" stroke-width="1" />
<line x1="391.9" y1="214.55" x2="395.9" y2="214.55" stroke="#222" stroke-width="1" />
<text x="389.4" y="217.85" font-size="9.6" text-anchor="end" >−2.0</text>
<line x1="393.9" y1="203.25" x2="395.9" y2="203.25" stroke="#222" stroke-width="1" />
<line x1="391.9" y1="191.95" x2="395.9" y2="191.95" stroke="#222" stroke-width="1" />
<text x="389.4" y="195.25" font-size="9.6" text-anchor="end" >−1.5</text>
<line x1="393.9" y1="180.65" x2="395.9" y2="180.65" stroke="#222" stroke-width="1" />
<line x1="391.9" y1="169.35" x2="395.9" y2="169.35" stroke="#222" stroke-width="1" />
<text x="389.4" y="172.65" font-size="9.6" text-anchor="end" >−1.0</text>
<line x1="393.9" y1="158.05" x2="395.9" y2="158.05" stroke="#222" stroke-width="1" />
<line x1="391.9" y1="146.75" x2="395.9" y2="146.75" stroke="#222" stroke-width="1" />
<text x="389.4" y="150.05" font-size="9.6" text-anchor="end" >−0.5</text>
<line x1="393.9" y1="135.45" x2="395.9" y2="135.45" stroke="#222" stroke-width="1" />
<line x1="391.9" y1="124.15" x2="395.9" y2="124.15" stroke="#222" stroke-width="1" />
<text x="389.4" y="127.45" font-size="9.6" text-anchor="end" >0.0</text>
<line x1="393.9" y1="112.85" x2="395.9" y2="112.85" stroke="#222" stroke-width="1" />
<line x1="391.9" y1="101.55" x2="395.9" y2="101.55" stroke="#222" stroke-width="1" />
<text x="389.4" y="104.85" font-size="9.6" text-anchor="end" >0.5</text>
<line x1="393.9" y1="90.25" x2="395.9" y2="90.25" stroke="#222" stroke-width="1" />
<line x1="391.9" y1="78.95" x2="395.9" y2="78.95" stroke="#222" stroke-width="1" />
<text x="389.4" y="82.25" font-size="9.6" text-anchor="end" >1.0</text>
<line x1="393.9" y1="67.65" x2="395.9" y2="67.65" stroke="#222" stroke-width="1" />
<line x1="391.9" y1="56.35" x2="395.9" y2="56.35" stroke="#222" stroke-width="1" />
<text x="389.4" y="59.65" font-size="9.6" text-anchor="end" >1.5</text>
<line x1="393.9" y1="45.05" x2="395.9" y2="45.05" stroke="#222" stroke-width="1" />
<line x1="391.9" y1="33.75" x2="395.9" y2="33.75" stroke="#222" stroke-width="1" />
<text x="389.4" y="37.05" font-size="9.6" text-anchor="end" >2.0</text>
<line x1="393.9" y1="22.45" x2="395.9" y2="22.45" stroke="#222" stroke-width="1" />
<line x1="395.9" y1="225.9" x2="395.9" y2="229.9" stroke="#222" stroke-width="1" />
<text x="395.9" y="240.3" font-size="9.6" text-anchor="middle" >0</text>
<line x1="408.63" y1="225.9" x2="408.63" y2="227.9" stroke="#222" stroke-width="1" />
<line x1="421.37" y1="225.9" x2="421.37" y2="229.9" stroke="#222" stroke-width="1" />
<text x="421.37" y="240.3" font-size="9.6" text-anchor="middle" >1</text>
<line x1="434.1" y1="225.9" x2="434.1" y2="227.9" stroke="#222" stroke-width="1" />
<line x1="446.84" y1="225.9" x2="446.84" y2="229.9" stroke="#222" stroke-width="1" />
<text x="446.84" y="240.3" font-size="9.6" text-anchor="middle" >2</text>
<line x1="459.57" y1="225.9" x2="459.57" y2="227.9" stroke="#222" stroke-width="1" />
<line x1="472.31" y1="225.9" x2="472.31" y2="229.9" stroke="#222" stroke-width="1" />
<text x="472.31" y="240.3" font-size="9.6" text-anchor="middle" >3</text>
<line x1="485.04" y1="225.9" x2="485.04" y2="227.9" stroke="#222" stroke-width="1" />
<line x1="497.78" y1="225.9" x2="497.78" y2="229.9" stroke="#222" stroke-width="1" />
<text x="497.78" y="240.3" font-size="9.6" text-anchor="middle" >4</text>
<line x1="510.51" y1="225.9" x2="510.51" y2="227.9" stroke="#222" stroke-width="1" />
<line x1="523.25" y1="225.9" x2="523.25" y2="229.9" stroke="#222" stroke-width="1" />
<text x="523.25" y="240.3" font-size="9.6" text-anchor="middle" >5</text>
<line x1="535.98" y1="225.9" x2="535.98" y2="227.9" stroke="#222" stroke-width="1" />
<line x1="548.72" y1="225.9" x2="548.72" y2="229.9" stroke="#222" stroke-width="1" />
<text x="548.72" y="240.3" font-size="9.6" text-anchor="middle" >6</text>
<line x1="561.45" y1="225.9" x2="561.45" y2="227.9" stroke="#222" stroke-width="1" />
<line x1="574.19" y1="225.9" x2="574.19" y2="229.9" stroke="#222" stroke-width="1" />
<text x="574.19" y="240.3" font-size="9.6" text-anchor="middle" >7</text>
<line x1="586.92" y1="225.9" x2="586.92" y2="227.9" stroke="#222" stroke-width="1" />
<line x1="599.66" y1="225.9" x2="599.66" y2="229.9" stroke="#222" stroke-width="1" />
<text x="599.66" y="240.3" font-size="9.6" text-anchor="middle" >8</text>
<line x1="612.39" y1="225.9" x2="612.39" y2="227.9" stroke="#222" stroke-width="1" />
<line x1="625.13" y1="225.9" x2="625.13" y2="229.9" stroke="#222" stroke-width="1" />
<text x="625.13" y="240.3" font-size="9.6" text-anchor="middle" >9</text>
<line x1="637.87" y1="225.9" x2="637.87" y2="227.9" stroke="#222" stroke-width="1" />
<line x1="650.6" y1="225.9" x2="650.6" y2="229.9" stroke="#222" stroke-width="1" />
<text x="650.6" y="240.3" font-size="9.6" text-anchor="middle" >10</text>
<text x="523.6" y="251.2" font-size="12.0" text-anchor="middle" >Time(s)</text>
<text x="0" y="0" font-size="12.0" text-anchor="middle" transform="translate(366.4,124.6) rotate(-90)">Joint 2(rad)</text>
<path d="M452.7,56.5 L453.49,56.82 L454.52,57.23 L455.75,57.72 L457.12,58.27 L458.58,58.87 L460.09,59.48 L461.58,60.1 L463,60.7 L464.41,61.3 L465.86,61.94 L467.35,62.59 L468.85,63.26 L470.35,63.93 L471.84,64.6 L473.29,65.26 L474.7,65.9 L476.06,66.52 L477.39,67.13 L478.7,67.73 L479.98,68.33 L481.25,68.92 L482.51,69.53 L483.76,70.16 L485,70.8 L486.25,71.48 L487.51,72.2 L488.76,72.94 L490,73.69 L491.21,74.42 L492.39,75.13 L493.52,75.8 L494.6,76.4 L495.61,76.93 L496.55,77.41 L497.44,77.84 L498.29,78.24 L499.13,78.64 L499.97,79.03 L500.82,79.45 L501.7,79.9 L502.6,80.39 L503.52,80.9 L504.44,81.43 L505.36,81.96 L506.28,82.49 L507.19,83.02 L508.1,83.52 L509,84 L509.89,84.45 L510.78,84.89 L511.66,85.31 L512.54,85.72 L513.42,86.13 L514.29,86.52 L515.15,86.91 L516,87.3 L516.84,87.68 L517.66,88.06 L518.47,88.43 L519.28,88.79 L520.08,89.15 L520.9,89.51 L521.74,89.85 L522.6,90.2 L523.46,90.54 L524.31,90.87 L525.16,91.19 L526.03,91.51 L526.93,91.83 L527.88,92.15 L528.9,92.47 L530,92.8 L531.2,93.14 L532.49,93.49 L533.84,93.84 L535.24,94.2 L536.68,94.55 L538.13,94.89 L539.58,95.2 L541,95.5 L542.41,95.77 L543.82,96.02 L545.23,96.26 L546.66,96.49 L548.09,96.7 L549.54,96.91 L551.01,97.11 L552.5,97.3 L554,97.49 L555.5,97.67 L557,97.85 L558.53,98.02 L560.09,98.18 L561.68,98.33 L563.31,98.47 L565,98.6 L566.69,98.72 L568.36,98.82 L570.03,98.92 L571.76,99.01 L573.58,99.09 L575.54,99.16 L577.66,99.23 L580,99.3 L582.76,99.37 L585.99,99.43 L589.5,99.49 L593.09,99.54 L596.56,99.59 L599.72,99.64 L602.36,99.67 L604.3,99.7" fill="none" stroke="#444" stroke-width="1.8" stroke-linejoin="round" stroke-dasharray="8.5,5.4,2.4,5.4,2.4,5.4"/>
<path d="M452.9,28.7 L453.65,29.02 L454.67,29.44 L455.88,29.95 L457.21,30.51 L458.61,31.1 L460,31.72 L461.32,32.32 L462.5,32.9 L463.57,33.45 L464.6,34 L465.59,34.56 L466.56,35.12 L467.51,35.7 L468.45,36.3 L469.38,36.93 L470.3,37.6 L471.21,38.31 L472.09,39.05 L472.94,39.81 L473.79,40.61 L474.64,41.42 L475.51,42.24 L476.39,43.07 L477.3,43.9 L478.22,44.72 L479.14,45.53 L480.06,46.33 L481.01,47.16 L481.98,48.01 L482.99,48.91 L484.06,49.87 L485.2,50.9 L486.44,52.04 L487.77,53.27 L489.17,54.58 L490.61,55.93 L492.06,57.28 L493.47,58.62 L494.83,59.9 L496.1,61.1 L497.29,62.24 L498.45,63.35 L499.56,64.43 L500.64,65.48 L501.68,66.5 L502.69,67.47 L503.66,68.41 L504.6,69.3 L505.49,70.14 L506.31,70.92 L507.09,71.66 L507.84,72.37 L508.58,73.05 L509.33,73.7 L510.09,74.35 L510.9,75 L511.73,75.63 L512.57,76.22 L513.42,76.79 L514.28,77.34 L515.16,77.9 L516.05,78.47 L516.96,79.07 L517.9,79.7 L518.87,80.38 L519.88,81.11 L520.91,81.86 L521.96,82.63 L523.02,83.39 L524.06,84.14 L525.1,84.84 L526.1,85.5 L527.07,86.11 L528.01,86.68 L528.94,87.22 L529.86,87.74 L530.79,88.25 L531.73,88.74 L532.7,89.22 L533.7,89.7 L534.73,90.18 L535.79,90.64 L536.86,91.09 L537.95,91.53 L539.06,91.96 L540.19,92.38 L541.33,92.8 L542.5,93.2 L543.71,93.6 L544.97,94 L546.26,94.39 L547.57,94.77 L548.87,95.14 L550.13,95.49 L551.35,95.81 L552.5,96.1 L553.53,96.35 L554.45,96.56 L555.3,96.75 L556.12,96.91 L556.98,97.07 L557.91,97.23 L558.97,97.4 L560.2,97.6 L561.6,97.83 L563.12,98.07 L564.75,98.34 L566.47,98.6 L568.25,98.86 L570.08,99.1 L571.94,99.32 L573.8,99.5 L575.71,99.65 L577.71,99.77 L579.77,99.88 L581.86,99.96 L583.95,100.03 L586.02,100.1 L588.05,100.15 L590,100.2 L591.98,100.24 L594.04,100.27 L596.13,100.29 L598.16,100.29 L600.07,100.3 L601.77,100.3 L603.21,100.3 L604.3,100.3" fill="none" stroke="#f52a2a" stroke-width="1.7" stroke-linejoin="round" stroke-dasharray="4.4,3.8"/>
<path d="M452.7,52.6 L454.13,53.43 L456.01,54.53 L458.25,55.84 L460.76,57.3 L463.43,58.84 L466.17,60.4 L468.89,61.9 L471.5,63.3 L474.06,64.63 L476.69,65.96 L479.36,67.3 L482.08,68.63 L484.82,69.95 L487.56,71.23 L490.29,72.49 L493,73.7 L495.73,74.89 L498.52,76.08 L501.34,77.25 L504.15,78.38 L506.91,79.47 L509.57,80.49 L512.12,81.44 L514.5,82.3 L516.7,83.05 L518.73,83.69 L520.64,84.26 L522.46,84.76 L524.23,85.23 L525.99,85.67 L527.77,86.13 L529.6,86.6 L531.44,87.08 L533.23,87.52 L535,87.95 L536.78,88.37 L538.58,88.79 L540.46,89.23 L542.42,89.7 L544.5,90.2 L546.72,90.75 L549.05,91.36 L551.47,91.99 L553.96,92.64 L556.48,93.28 L559.01,93.9 L561.53,94.48 L564,95 L566.44,95.48 L568.87,95.93 L571.29,96.35 L573.73,96.74 L576.17,97.11 L578.62,97.44 L581.1,97.74 L583.6,98 L586.28,98.22 L589.18,98.39 L592.19,98.53 L595.17,98.64 L598.01,98.72 L600.55,98.79 L602.7,98.84 L604.3,98.9" fill="none" stroke="#34b066" stroke-width="2.1" stroke-linejoin="round" />
<path d="M452.7,5.8 L454.22,6.73 L455.74,7.65 L457.25,8.56 L458.77,9.46 L460.29,10.36 L461.81,11.24 L463.33,12.12 L464.84,12.98 L466.36,13.84 L467.88,14.69 L469.4,15.53 L470.92,16.37 L472.43,17.19 L473.95,18.01 L475.47,18.81 L476.99,19.61 L478.51,20.41 L480.02,21.19 L481.54,21.97 L483.06,22.74 L484.58,23.5 L486.1,24.25 L487.61,25 L489.13,25.74 L490.65,26.47 L492.17,27.19 L493.69,27.91 L495.2,28.62 L496.72,29.32 L498.24,30.02 L499.76,30.7 L501.28,31.39 L502.79,32.06 L504.31,32.73 L505.83,33.39 L507.35,34.05 L508.87,34.69 L510.38,35.34 L511.9,35.97 L513.42,36.6 L514.94,37.23 L516.46,37.84 L517.97,38.45 L519.49,39.06 L521.01,39.66 L522.53,40.25 L524.05,40.84 L525.56,41.42 L527.08,41.99 L528.6,42.56 L530.12,43.13 L531.64,43.68 L533.15,44.24 L534.67,44.78 L536.19,45.33 L537.71,45.86 L539.23,46.39 L540.74,46.92 L542.26,47.44 L543.78,47.95 L545.3,48.46 L546.82,48.97 L548.33,49.47 L549.85,49.97 L551.37,50.46 L552.89,50.94 L554.41,51.42 L555.92,51.9 L557.44,52.37 L558.96,52.83 L560.48,53.3 L562,53.75 L563.51,54.21 L565.03,54.65 L566.55,55.1 L568.07,55.54 L569.59,55.97 L571.1,56.4 L572.62,56.83 L574.14,57.25 L575.66,57.67 L577.18,58.08 L578.69,58.49 L580.21,58.9 L581.73,59.3 L583.25,59.69 L584.77,60.09 L586.28,60.48 L587.8,60.86 L589.32,61.24 L590.84,61.62 L592.36,62 L593.87,62.37 L595.39,62.73 L596.91,63.1 L598.43,63.46 L599.95,63.81 L601.46,64.16 L602.98,64.51 L604.5,64.86" fill="none" stroke="#d6a31a" stroke-width="1.9" stroke-linejoin="round" />
<line x1="452.9" y1="5.3" x2="452.9" y2="102.2" stroke="#d2d2d2" stroke-width="1.8" />
<line x1="452.7" y1="102.2" x2="604.8" y2="102.2" stroke="#999" stroke-width="1.0" />
<line x1="450.5" y1="99.7" x2="452.7" y2="99.7" stroke="#777" stroke-width="1" />
<text x="450" y="103" font-size="9.6" text-anchor="end" >0.0</text>
<line x1="451.5" y1="87.96" x2="452.7" y2="87.96" stroke="#777" stroke-width="1" />
<line x1="450.5" y1="76.22" x2="452.7" y2="76.22" stroke="#777" stroke-width="1" />
<text x="450" y="79.52" font-size="9.6" text-anchor="end" >0.5</text>
<line x1="451.5" y1="64.49" x2="452.7" y2="64.49" stroke="#777" stroke-width="1" />
<line x1="450.5" y1="52.75" x2="452.7" y2="52.75" stroke="#777" stroke-width="1" />
<text x="450" y="56.05" font-size="9.6" text-anchor="end" >1.0</text>
<line x1="451.5" y1="41.01" x2="452.7" y2="41.01" stroke="#777" stroke-width="1" />
<line x1="450.5" y1="29.27" x2="452.7" y2="29.27" stroke="#777" stroke-width="1" />
<text x="450" y="32.57" font-size="9.6" text-anchor="end" >1.5</text>
<line x1="451.5" y1="17.54" x2="452.7" y2="17.54" stroke="#777" stroke-width="1" />
<line x1="450.5" y1="5.8" x2="452.7" y2="5.8" stroke="#777" stroke-width="1" />
<text x="450" y="9.1" font-size="9.6" text-anchor="end" >2.0</text>
<line x1="452.7" y1="102.2" x2="452.7" y2="103.8" stroke="#777" stroke-width="1" />
<line x1="528.6" y1="102.2" x2="528.6" y2="103.2" stroke="#777" stroke-width="1" />
<line x1="604.5" y1="102.2" x2="604.5" y2="103.8" stroke="#777" stroke-width="1" />
<text x="453" y="112.9" font-size="9.6" text-anchor="middle" >0.0</text>
<text x="604.5" y="112.9" font-size="9.6" text-anchor="middle" >0.2</text>
<path d="M476.9,177.8 L477.9,177.85 L479.21,177.93 L480.77,178.02 L482.51,178.12 L484.37,178.2 L486.28,178.25 L488.18,178.26 L490,178.2 L491.78,178.06 L493.62,177.85 L495.49,177.59 L497.38,177.31 L499.29,177.01 L501.21,176.73 L503.11,176.49 L505,176.3 L506.88,176.16 L508.75,176.04 L510.62,175.94 L512.5,175.86 L514.38,175.8 L516.25,175.77 L518.12,175.77 L520,175.8 L521.88,175.87 L523.75,175.99 L525.62,176.13 L527.5,176.31 L529.38,176.49 L531.25,176.67 L533.12,176.85 L535,177 L536.91,177.16 L538.87,177.34 L540.84,177.53 L542.81,177.71 L544.74,177.87 L546.6,177.98 L548.36,178.03 L550,178 L551.46,177.86 L552.73,177.61 L553.9,177.3 L555,176.94 L556.1,176.58 L557.27,176.24 L558.54,175.97 L560,175.8 L561.64,175.71 L563.4,175.68 L565.26,175.68 L567.19,175.73 L569.16,175.81 L571.13,175.92 L573.09,176.05 L575,176.2 L576.91,176.4 L578.87,176.65 L580.84,176.96 L582.81,177.27 L584.74,177.59 L586.6,177.88 L588.36,178.13 L590,178.3 L591.43,178.41 L592.65,178.49 L593.74,178.54 L594.77,178.55 L595.84,178.53 L597.01,178.48 L598.37,178.41 L600,178.3 L601.93,178.14 L604.12,177.92 L606.48,177.66 L608.95,177.38 L611.47,177.09 L613.96,176.81 L616.36,176.58 L618.6,176.4 L620.69,176.26 L622.71,176.13 L624.67,176.02 L626.59,175.94 L628.48,175.89 L630.37,175.88 L632.27,175.91 L634.2,176 L636.23,176.17 L638.38,176.43 L640.58,176.76 L642.76,177.11 L644.84,177.47 L646.75,177.81 L648.43,178.09 L649.8,178.3 L650.84,178.43 L651.61,178.5 L652.15,178.54 L652.52,178.54 L652.78,178.53 L652.95,178.51 L653.11,178.5 L653.3,178.5" fill="none" stroke="#444" stroke-width="1.5" stroke-linejoin="round" stroke-dasharray="6.6,3.6,1.6,3.6,1.6,3.6"/>
<path d="M476.9,179.3 L477.25,180.08 L477.71,181.15 L478.26,182.43 L478.87,183.84 L479.53,185.28 L480.2,186.68 L480.86,187.95 L481.5,189 L482.12,189.89 L482.76,190.73 L483.4,191.5 L484.06,192.2 L484.72,192.81 L485.38,193.32 L486.04,193.72 L486.7,194 L487.36,194.16 L488.01,194.2 L488.67,194.13 L489.33,193.97 L489.99,193.71 L490.66,193.38 L491.33,192.97 L492,192.5 L492.68,191.94 L493.38,191.28 L494.08,190.53 L494.78,189.7 L495.48,188.82 L496.17,187.9 L496.84,186.95 L497.5,186 L498.13,185.02 L498.73,183.99 L499.31,182.93 L499.89,181.82 L500.46,180.7 L501.05,179.57 L501.66,178.43 L502.3,177.3 L502.97,176.14 L503.65,174.94 L504.36,173.71 L505.08,172.48 L505.8,171.27 L506.53,170.11 L507.27,169.01 L508,168 L508.74,167.06 L509.48,166.17 L510.23,165.32 L510.99,164.53 L511.74,163.8 L512.5,163.13 L513.25,162.53 L514,162 L514.75,161.55 L515.5,161.16 L516.25,160.84 L517.01,160.58 L517.75,160.39 L518.48,160.26 L519.2,160.2 L519.9,160.2 L520.59,160.26 L521.27,160.39 L521.94,160.58 L522.6,160.83 L523.24,161.15 L523.86,161.53 L524.44,161.98 L525,162.5 L525.52,163.1 L526,163.79 L526.45,164.55 L526.88,165.37 L527.29,166.25 L527.69,167.15 L528.09,168.07 L528.5,169 L528.9,169.95 L529.27,170.93 L529.63,171.94 L529.99,172.98 L530.36,174.04 L530.74,175.12 L531.15,176.21 L531.6,177.3 L532.09,178.43 L532.62,179.63 L533.17,180.86 L533.74,182.09 L534.32,183.3 L534.9,184.45 L535.46,185.53 L536,186.5 L536.52,187.37 L537.02,188.19 L537.52,188.94 L538.01,189.62 L538.5,190.25 L538.99,190.83 L539.49,191.34 L540,191.8 L540.52,192.2 L541.03,192.54 L541.55,192.82 L542.08,193.05 L542.61,193.22 L543.15,193.33 L543.72,193.39 L544.3,193.4 L544.9,193.36 L545.53,193.28 L546.17,193.15 L546.82,192.96 L547.49,192.7 L548.16,192.38 L548.83,191.98 L549.5,191.5 L550.18,190.93 L550.87,190.27 L551.56,189.54 L552.26,188.73 L552.96,187.87 L553.65,186.95 L554.33,185.99 L555,185 L555.64,183.95 L556.26,182.81 L556.87,181.62 L557.47,180.38 L558.07,179.12 L558.69,177.86 L559.33,176.61 L560,175.4 L560.7,174.19 L561.43,172.94 L562.18,171.69 L562.94,170.44 L563.71,169.23 L564.48,168.07 L565.24,166.99 L566,166 L566.75,165.1 L567.51,164.26 L568.27,163.48 L569.02,162.77 L569.78,162.11 L570.53,161.52 L571.27,160.98 L572,160.5 L572.73,160.08 L573.46,159.7 L574.18,159.39 L574.9,159.14 L575.61,158.95 L576.29,158.83 L576.96,158.78 L577.6,158.8 L578.21,158.9 L578.81,159.06 L579.38,159.3 L579.93,159.61 L580.47,159.98 L580.99,160.42 L581.5,160.93 L582,161.5 L582.49,162.16 L582.95,162.91 L583.41,163.73 L583.85,164.62 L584.28,165.55 L584.7,166.52 L585.1,167.51 L585.5,168.5 L585.87,169.51 L586.22,170.58 L586.54,171.67 L586.86,172.79 L587.18,173.93 L587.52,175.06 L587.89,176.19 L588.3,177.3 L588.76,178.42 L589.26,179.57 L589.78,180.73 L590.32,181.89 L590.88,183.01 L591.43,184.09 L591.97,185.09 L592.5,186 L593.01,186.83 L593.5,187.59 L593.99,188.3 L594.48,188.94 L594.97,189.54 L595.47,190.08 L595.98,190.56 L596.5,191 L597.03,191.39 L597.57,191.73 L598.11,192.02 L598.66,192.26 L599.22,192.44 L599.79,192.56 L600.39,192.61 L601,192.6 L601.64,192.52 L602.3,192.37 L602.99,192.16 L603.69,191.89 L604.39,191.55 L605.1,191.16 L605.81,190.71 L606.5,190.2 L607.19,189.62 L607.9,188.95 L608.6,188.21 L609.31,187.42 L610,186.59 L610.69,185.74 L611.36,184.87 L612,184 L612.61,183.13 L613.18,182.25 L613.73,181.35 L614.28,180.43 L614.82,179.48 L615.38,178.49 L615.97,177.47 L616.6,176.4 L617.27,175.25 L617.97,174.01 L618.69,172.71 L619.43,171.38 L620.19,170.06 L620.95,168.79 L621.72,167.59 L622.5,166.5 L623.29,165.5 L624.09,164.54 L624.91,163.62 L625.73,162.77 L626.56,161.97 L627.38,161.24 L628.2,160.58 L629,160 L629.8,159.48 L630.62,159.01 L631.43,158.6 L632.24,158.26 L633.03,158 L633.79,157.83 L634.52,157.76 L635.2,157.8 L635.84,157.95 L636.44,158.22 L637.01,158.59 L637.55,159.04 L638.07,159.57 L638.56,160.17 L639.04,160.82 L639.5,161.5 L639.94,162.25 L640.35,163.09 L640.74,164 L641.11,164.96 L641.47,165.96 L641.82,166.98 L642.16,168 L642.5,169 L642.83,170.01 L643.12,171.04 L643.41,172.1 L643.69,173.17 L643.97,174.23 L644.28,175.28 L644.62,176.31 L645,177.3 L645.43,178.26 L645.89,179.19 L646.38,180.11 L646.89,181.01 L647.41,181.9 L647.94,182.78 L648.48,183.64 L649,184.5 L649.55,185.39 L650.15,186.33 L650.78,187.27 L651.4,188.2 L651.99,189.07 L652.52,189.85 L652.97,190.5 L653.3,191" fill="none" stroke="#f52a2a" stroke-width="1.5" stroke-linejoin="round" stroke-dasharray="2.8,1.9"/>
<line x1="476.9" y1="145.9" x2="653.38" y2="145.9" stroke="#d6a31a" stroke-width="2" />
<line x1="476.9" y1="208.3" x2="653.38" y2="208.3" stroke="#2ccdcf" stroke-width="2" />
<line x1="476.9" y1="142.8" x2="476.9" y2="210.9" stroke="#a8a8a8" stroke-width="1.2" />
<line x1="476.9" y1="210.9" x2="653.67" y2="210.9" stroke="#b4b4b4" stroke-width="1.1" />
<line x1="474.9" y1="208.3" x2="476.9" y2="208.3" stroke="#555" stroke-width="1" />
<line x1="475.7" y1="192.7" x2="476.9" y2="192.7" stroke="#555" stroke-width="1" />
<line x1="474.9" y1="177.1" x2="476.9" y2="177.1" stroke="#555" stroke-width="1" />
<line x1="475.7" y1="161.5" x2="476.9" y2="161.5" stroke="#555" stroke-width="1" />
<line x1="474.9" y1="145.9" x2="476.9" y2="145.9" stroke="#555" stroke-width="1" />
<text x="474.2" y="149.2" font-size="9.6" text-anchor="end" >0.01</text>
<text x="474.2" y="180.4" font-size="9.6" text-anchor="end" >0.00</text>
<text x="474.2" y="211.6" font-size="9.6" text-anchor="end" >−0.01</text>
<line x1="476.9" y1="210.9" x2="476.9" y2="212" stroke="#555" stroke-width="1" />
<line x1="490.47" y1="210.9" x2="490.47" y2="212.7" stroke="#555" stroke-width="1" />
<text x="490.47" y="222" font-size="9.6" text-anchor="middle" >4</text>
<line x1="504.05" y1="210.9" x2="504.05" y2="212" stroke="#555" stroke-width="1" />
<line x1="517.62" y1="210.9" x2="517.62" y2="212.7" stroke="#555" stroke-width="1" />
<text x="517.62" y="222" font-size="9.6" text-anchor="middle" >5</text>
<line x1="531.2" y1="210.9" x2="531.2" y2="212" stroke="#555" stroke-width="1" />
<line x1="544.77" y1="210.9" x2="544.77" y2="212.7" stroke="#555" stroke-width="1" />
<text x="544.77" y="222" font-size="9.6" text-anchor="middle" >6</text>
<line x1="558.35" y1="210.9" x2="558.35" y2="212" stroke="#555" stroke-width="1" />
<line x1="571.92" y1="210.9" x2="571.92" y2="212.7" stroke="#555" stroke-width="1" />
<text x="571.92" y="222" font-size="9.6" text-anchor="middle" >7</text>
<line x1="585.5" y1="210.9" x2="585.5" y2="212" stroke="#555" stroke-width="1" />
<line x1="599.07" y1="210.9" x2="599.07" y2="212.7" stroke="#555" stroke-width="1" />
<text x="599.07" y="222" font-size="9.6" text-anchor="middle" >8</text>
<line x1="612.65" y1="210.9" x2="612.65" y2="212" stroke="#555" stroke-width="1" />
<line x1="626.22" y1="210.9" x2="626.22" y2="212.7" stroke="#555" stroke-width="1" />
<text x="626.22" y="222" font-size="9.6" text-anchor="middle" >9</text>
<line x1="639.8" y1="210.9" x2="639.8" y2="212" stroke="#555" stroke-width="1" />
<line x1="653.38" y1="210.9" x2="653.38" y2="212.7" stroke="#555" stroke-width="1" />
<text x="653.38" y="222" font-size="9.6" text-anchor="middle" >10</text>
<line x1="422.7" y1="69.6" x2="433.16" y2="61.04" stroke="#333" stroke-width="0.9" />
<path d="M437.5,57.5 L433.66,63.23 L431.12,60.13 Z" fill="#333"/>
<line x1="574.6" y1="133" x2="549.62" y2="142.68" stroke="#333" stroke-width="0.9" />
<path d="M544.4,144.7 L549.83,140.45 L551.28,144.18 Z" fill="#333"/>
<rect x="607.6" y="1.5" width="76" height="79.5" rx="0.8" fill="#fff" stroke="#c8c8c8" stroke-width="1.2"/>
<line x1="608.8" y1="8" x2="630.6" y2="8" stroke="#3a3a3a" stroke-width="1.1" stroke-dasharray="4.8,2.4,1.9,2.4,1.9,2.4"/>
<line x1="608.8" y1="20.2" x2="630.6" y2="20.2" stroke="#f52a2a" stroke-width="1.1" stroke-dasharray="2.8,1.9"/>
<line x1="608.8" y1="33.2" x2="630.6" y2="33.2" stroke="#34b066" stroke-width="1.1" />
<line x1="608.8" y1="48.4" x2="630.6" y2="48.4" stroke="#a877e6" stroke-width="1.1" />
<line x1="608.8" y1="62" x2="630.6" y2="62" stroke="#d6a31a" stroke-width="1.1" />
<line x1="608.8" y1="74.2" x2="630.6" y2="74.2" stroke="#2ccdcf" stroke-width="1.1" />
<text x="633.3" y="11.3" font-size="9.6" text-anchor="start" >PPNFTSMC</text>
<text x="633.3" y="23.6" font-size="9.6" text-anchor="start" >PPSMC</text>
<text x="633.3" y="36.6" font-size="9.6">r<tspan font-size="7" dy="2.6">T</tspan></text>
<text x="633.3" y="51.7" font-size="9.6">-r<tspan font-size="7" dy="2.6">T</tspan></text>
<text x="633.3" y="65.6" font-size="9.6">ρ</text>
<text x="633.3" y="77.6" font-size="9.6">-ρ</text>
</svg>
</body></html>
